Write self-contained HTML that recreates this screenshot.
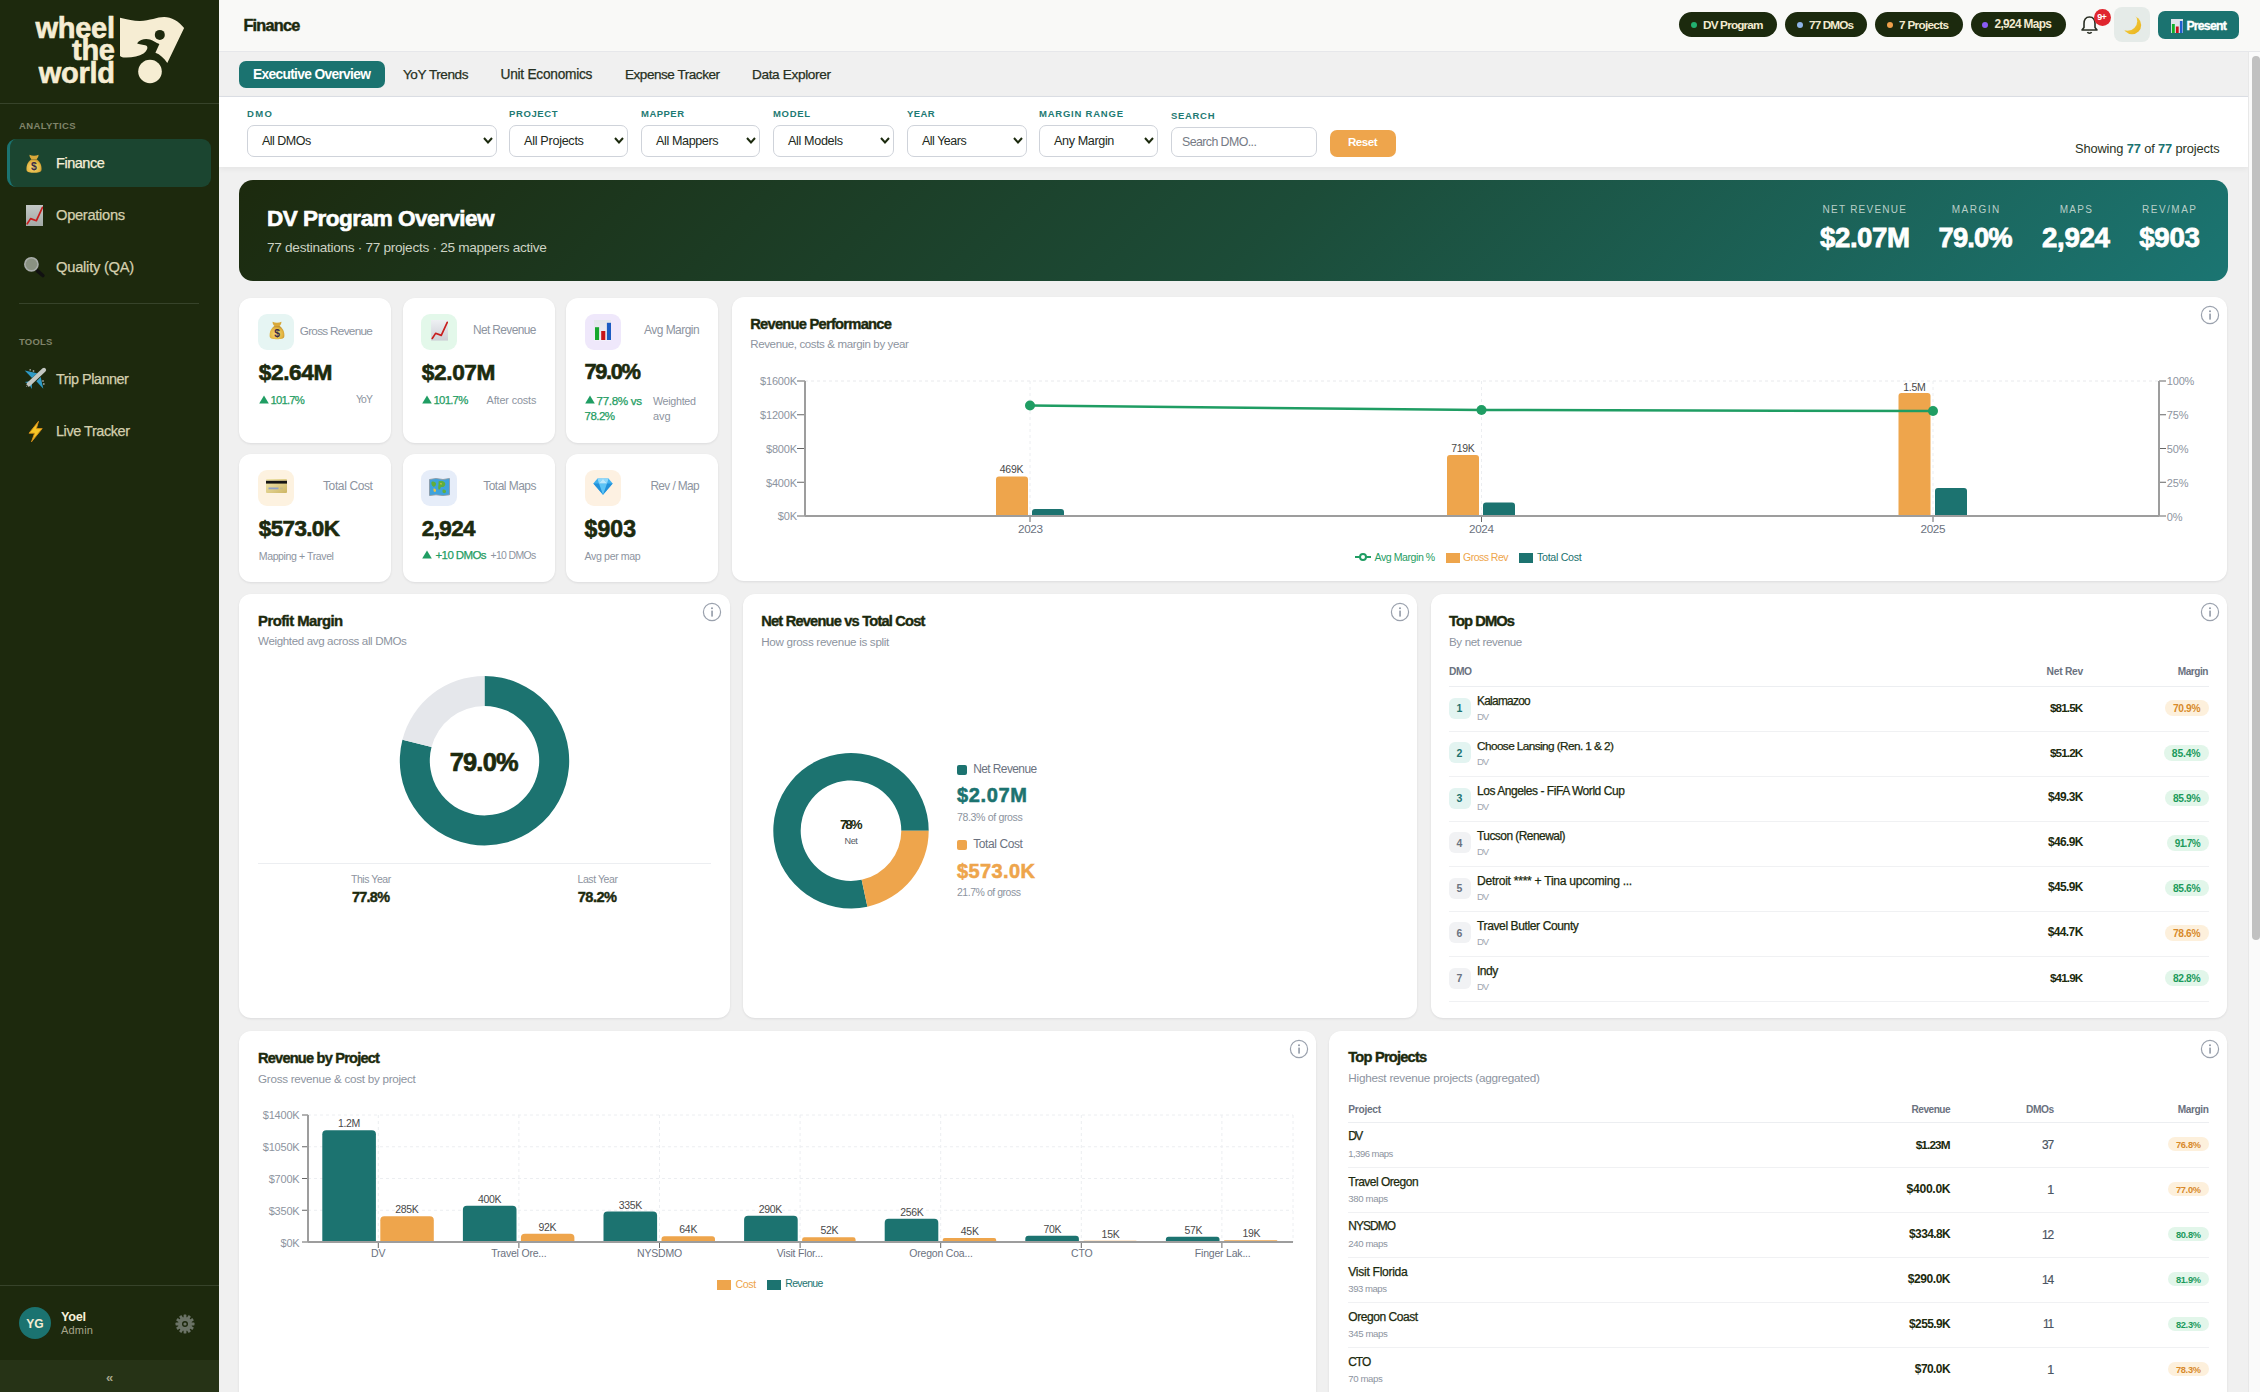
<!DOCTYPE html>
<html><head><meta charset="utf-8"><title>Finance</title>
<style>
html,body{margin:0;padding:0;}
body{width:2260px;height:1392px;overflow:hidden;position:relative;background:#f0f0f0;font-family:'Liberation Sans', sans-serif;}
</style></head><body>
<div style="position:absolute;left:0px;top:0px;width:2260px;height:52px;background:#f9f9f7;border-bottom:1px solid #e6e7ea;box-sizing:border-box"></div>
<div style="position:absolute;left:219px;top:96px;width:2029px;height:1px;background:#dcdfe5"></div>
<div style="position:absolute;left:219px;top:97px;width:2029px;height:70px;background:#ffffff;box-shadow:0 2px 6px rgba(0,0,0,0.05)"></div>
<div style="position:absolute;left:2248px;top:52px;width:12px;height:1340px;background:#fafafa;border-left:1px solid #e8e8e8;box-sizing:border-box"></div>
<div style="position:absolute;left:2252px;top:56px;width:8px;height:884px;background:#c1c1c1;border-radius:4px"></div>
<div style="position:absolute;left:0px;top:0px;width:219px;height:1392px;background:#1d290d"></div>
<div style="position:absolute;left:0px;top:103px;width:219px;height:1px;background:#37432a"></div>
<div style="position:absolute;left:-1885.3px;width:2000px;text-align:right;top:8.8px;height:38px;line-height:38px;font-size:29.00px;font-weight:700;color:#f6edd3;letter-spacing:-0.300px;white-space:nowrap;-webkit-text-stroke:0.6px #f6edd3">wheel</div>
<div style="position:absolute;left:-1885.3px;width:2000px;text-align:right;top:31.3px;height:38px;line-height:38px;font-size:29.00px;font-weight:700;color:#f6edd3;letter-spacing:-0.300px;white-space:nowrap;-webkit-text-stroke:0.6px #f6edd3">the</div>
<div style="position:absolute;left:-1885.3px;width:2000px;text-align:right;top:53.8px;height:38px;line-height:38px;font-size:29.00px;font-weight:700;color:#f6edd3;letter-spacing:-0.300px;white-space:nowrap;-webkit-text-stroke:0.6px #f6edd3">world</div>
<svg style="position:absolute;left:100px;top:0px" width="100" height="100" viewBox="100 0 100 100">
<path d="M120,17.7 C128,19.5 134,21 140,20.9 C150,20.5 157,17 164,16.9 C171,16.8 179,21 184.1,28.1 L167.3,63.1 C164,58 160,54.5 155.4,52.8 L159.4,44 C156,43 153.5,40.5 150,39.5 C146,38.3 140,39 137.1,43.2 C139,44.8 143,44 146.5,45.8 C148.5,47.5 147,51 143.5,53.5 C139,56.5 132,57.8 125,57.6 C123,57.5 121.5,57 120,56 Z" fill="#f6edd3"/>
<circle cx="159.8" cy="34.9" r="5" fill="#1d290d"/>
<circle cx="150" cy="71.5" r="11.8" fill="#f6edd3"/>
</svg>
<div style="position:absolute;left:19.0px;top:119.7px;height:12px;line-height:12px;font-size:9.50px;font-weight:700;color:#80846a;letter-spacing:0.375px;white-space:nowrap;">ANALYTICS</div>
<div style="position:absolute;left:19.0px;top:335.6px;height:12px;line-height:12px;font-size:9.50px;font-weight:700;color:#80846a;letter-spacing:0.184px;white-space:nowrap;">TOOLS</div>
<div style="position:absolute;left:19px;top:303px;width:180px;height:1px;background:#37432a"></div>
<div style="position:absolute;left:7px;top:139px;width:204px;height:48px;background:#1b4530;border-radius:9px;border-left:3px solid #1b7370;box-sizing:border-box"></div>
<div style="position:absolute;left:56.0px;top:153.9px;height:19px;line-height:19px;font-size:14.54px;font-weight:500;color:#f6efd9;letter-spacing:-0.488px;white-space:nowrap;-webkit-text-stroke:0.25px #f6efd9;">Finance</div>
<div style="position:absolute;left:56.0px;top:205.7px;height:19px;line-height:19px;font-size:14.70px;font-weight:500;color:#d4cfae;letter-spacing:-0.298px;white-space:nowrap;-webkit-text-stroke:0.25px #d4cfae;">Operations</div>
<div style="position:absolute;left:56.0px;top:257.7px;height:19px;line-height:19px;font-size:14.73px;font-weight:500;color:#d4cfae;letter-spacing:-0.247px;white-space:nowrap;-webkit-text-stroke:0.25px #d4cfae;">Quality (QA)</div>
<div style="position:absolute;left:56.0px;top:369.8px;height:19px;line-height:19px;font-size:14.45px;font-weight:500;color:#d4cfae;letter-spacing:-0.473px;white-space:nowrap;-webkit-text-stroke:0.25px #d4cfae;">Trip Planner</div>
<div style="position:absolute;left:56.0px;top:421.5px;height:19px;line-height:19px;font-size:14.49px;font-weight:500;color:#d4cfae;letter-spacing:-0.447px;white-space:nowrap;-webkit-text-stroke:0.25px #d4cfae;">Live Tracker</div>
<svg style="position:absolute;left:26px;top:153.5px" width="16" height="20" viewBox="0 0 16 20">
<defs><radialGradient id="mbg1" cx="0.45" cy="0.6" r="0.65"><stop offset="0" stop-color="#f8dc78"/><stop offset="0.7" stop-color="#e2b440"/><stop offset="1" stop-color="#b8862a"/></radialGradient></defs>
<path d="M3.5,0.8 C6,2.2 10,2.2 12.5,0.8 C12.8,2.5 11.5,4.2 10.6,5.2 L5.4,5.2 C4.5,4.2 3.2,2.5 3.5,0.8 Z" fill="#d9a93a"/>
<path d="M5.4,5.2 C1,8 0,13 0.6,16.5 C1.2,19.6 14.8,19.6 15.4,16.5 C16,13 15,8 10.6,5.2 Z" fill="url(#mbg1)"/>
<text x="8" y="16.3" font-family="Liberation Sans" font-weight="700" font-size="10.5" text-anchor="middle" fill="#3b2c48">$</text>
</svg>
<svg style="position:absolute;left:25.8px;top:205px" width="17.5" height="21" viewBox="0 0 17.5 21"><defs><linearGradient id="cg2" x1="0" y1="0" x2="0" y2="1"><stop offset="0" stop-color="#c3c8c6"/><stop offset="1" stop-color="#a3a9a6"/></linearGradient></defs>
<rect x="0" y="0" width="17.5" height="21" fill="url(#cg2)"/>
<polyline points="1.2,18.8 4.6,13.6 10.4,15.7 16.5,2.4" fill="none" stroke="#c81e1e" stroke-width="1.7" stroke-linejoin="round" stroke-linecap="round"/>
</svg>
<svg style="position:absolute;left:23px;top:256px" width="22" height="22" viewBox="0 0 22 22">
<line x1="14.5" y1="14.8" x2="19.8" y2="19.5" stroke="#111111" stroke-width="3.6" stroke-linecap="round"/>
<circle cx="8.4" cy="8.3" r="6.6" fill="#8a9282" stroke="#a9adaa" stroke-width="1.6"/>
</svg>
<svg style="position:absolute;left:20px;top:365px" width="30" height="30" viewBox="0 0 30 30">
<polygon points="12,12.9 17.2,8.2 4.7,5.4" fill="#2e9ac6"/>
<polygon points="16.4,16.2 20.7,12 23.3,23.7" fill="#2e9ac6"/>
<polygon points="8.6,18.8 11.8,16 4.7,17" fill="#2e9ac6"/>
<polygon points="8.6,18.8 11.8,16 11.9,24.1" fill="#2e9ac6"/>
<line x1="8.6" y1="19.4" x2="24" y2="4.9" stroke="#c3c7c2" stroke-width="4.2" stroke-linecap="round"/>
<line x1="8" y1="20" x2="6" y2="22" stroke="#6f726b" stroke-width="1"/>
<circle cx="10.2" cy="4.8" r="0.9" fill="#9a9c94"/><circle cx="13.5" cy="6" r="0.9" fill="#9a9c94"/>
<circle cx="23" cy="16" r="0.9" fill="#9a9c94"/><circle cx="23.8" cy="19" r="0.9" fill="#9a9c94"/>
</svg>
<svg style="position:absolute;left:27.5px;top:421px" width="15" height="21" viewBox="0 0 15 21">
<path d="M10.5,0.3 L1,12.2 L6.6,12.2 L3.5,20.8 L14.2,7.6 L8.4,7.6 Z" fill="#f6c526" stroke="#d8901a" stroke-width="0.9" stroke-linejoin="round"/>
</svg>
<div style="position:absolute;left:0px;top:1285px;width:219px;height:1px;background:#37432a"></div>
<div style="position:absolute;left:19px;top:1307px;width:32px;height:32px;background:#1b7370;border-radius:50%"></div>
<div style="position:absolute;left:-965.0px;width:2000px;text-align:center;top:1315.5px;height:16px;line-height:16px;font-size:12.00px;font-weight:700;color:#f6edd3;letter-spacing:0.000px;white-space:nowrap;">YG</div>
<div style="position:absolute;left:61.0px;top:1307.8px;height:17px;line-height:17px;font-size:12.74px;font-weight:700;color:#f6efd9;letter-spacing:-0.322px;white-space:nowrap;">Yoel</div>
<div style="position:absolute;left:61.0px;top:1323.0px;height:14px;line-height:14px;font-size:11.00px;font-weight:400;color:#a6a58a;letter-spacing:0.178px;white-space:nowrap;">Admin</div>
<svg style="position:absolute;left:175px;top:1314px" width="20" height="20" viewBox="0 0 20 20">
<g fill="#6b7366"><circle cx="10" cy="10" r="7"/>
<g id="t"><rect x="8.6" y="0.5" width="2.8" height="4" rx="0.6"/></g>
<use href="#t" transform="rotate(30 10 10)"/><use href="#t" transform="rotate(60 10 10)"/><use href="#t" transform="rotate(90 10 10)"/>
<use href="#t" transform="rotate(120 10 10)"/><use href="#t" transform="rotate(150 10 10)"/><use href="#t" transform="rotate(180 10 10)"/>
<use href="#t" transform="rotate(210 10 10)"/><use href="#t" transform="rotate(240 10 10)"/><use href="#t" transform="rotate(270 10 10)"/>
<use href="#t" transform="rotate(300 10 10)"/><use href="#t" transform="rotate(330 10 10)"/></g>
<circle cx="10" cy="10" r="3" fill="#1d290d"/><circle cx="10" cy="10" r="1.6" fill="#6b7366"/>
</svg>
<div style="position:absolute;left:0px;top:1360px;width:219px;height:32px;background:#263316"></div>
<div style="position:absolute;left:106.0px;top:1368.5px;height:17px;line-height:17px;font-size:13.00px;font-weight:700;color:#a6a58a;letter-spacing:0.000px;white-space:nowrap;">«</div>
<div style="position:absolute;left:243.4px;top:15.1px;height:21px;line-height:21px;font-size:16.31px;font-weight:700;color:#1c2a0e;letter-spacing:-0.759px;white-space:nowrap;-webkit-text-stroke:0.46px #1c2a0e;">Finance</div>
<div style="position:absolute;left:1679px;top:12px;width:98px;height:25px;background:#1c2a0e;border-radius:13px"></div>
<div style="position:absolute;left:1691px;top:22px;width:6px;height:6px;background:#22b070;border-radius:50%"></div>
<div style="position:absolute;left:1703.0px;top:17.0px;height:15px;line-height:15px;font-size:11.75px;font-weight:700;color:#f3ead0;letter-spacing:-0.822px;white-space:nowrap;">DV Program</div>
<div style="position:absolute;left:1785px;top:12px;width:82px;height:25px;background:#1c2a0e;border-radius:13px"></div>
<div style="position:absolute;left:1797px;top:22px;width:6px;height:6px;background:#8fb4e8;border-radius:50%"></div>
<div style="position:absolute;left:1809.0px;top:17.0px;height:15px;line-height:15px;font-size:11.77px;font-weight:700;color:#f3ead0;letter-spacing:-0.893px;white-space:nowrap;">77 DMOs</div>
<div style="position:absolute;left:1875px;top:12px;width:88px;height:25px;background:#1c2a0e;border-radius:13px"></div>
<div style="position:absolute;left:1887px;top:22px;width:6px;height:6px;background:#f0a04b;border-radius:50%"></div>
<div style="position:absolute;left:1899.0px;top:17.0px;height:15px;line-height:15px;font-size:11.74px;font-weight:700;color:#f3ead0;letter-spacing:-0.683px;white-space:nowrap;">7 Projects</div>
<div style="position:absolute;left:1971px;top:12px;width:95px;height:25px;background:#1c2a0e;border-radius:13px"></div>
<div style="position:absolute;left:1982px;top:22px;width:6px;height:6px;background:#8b5cf6;border-radius:50%"></div>
<div style="position:absolute;left:1994.5px;top:17.0px;height:15px;line-height:15px;font-size:11.87px;font-weight:700;color:#f3ead0;letter-spacing:-0.648px;white-space:nowrap;">2,924 Maps</div>
<svg style="position:absolute;left:2080px;top:15px" width="19" height="20" viewBox="0 0 19 20">
<path d="M9.5,2 C5.5,2 4,5 4,8.5 L4,12.5 L2,15 L17,15 L15,12.5 L15,8.5 C15,5 13.5,2 9.5,2 Z" fill="none" stroke="#2a2f24" stroke-width="1.6" stroke-linejoin="round"/>
<path d="M7.5,17 C8,18.6 11,18.6 11.5,17" fill="none" stroke="#2a2f24" stroke-width="1.5"/>
</svg>
<div style="position:absolute;left:2094px;top:9px;width:17px;height:17px;background:#e0262e;border-radius:50%"></div>
<div style="position:absolute;left:1101.7px;width:2000px;text-align:center;top:11.0px;height:12px;line-height:12px;font-size:9.00px;font-weight:700;color:#ffffff;letter-spacing:-0.600px;white-space:nowrap;">9+</div>
<div style="position:absolute;left:2114px;top:7px;width:36px;height:35px;background:#e5ebe8;border-radius:8px"></div>
<svg style="position:absolute;left:2120px;top:14px" width="24" height="24" viewBox="0 0 24 24"><defs><mask id="moonm"><rect x="0" y="0" width="24" height="24" fill="#fff"/><circle cx="7.6" cy="7.2" r="9.6" fill="#000"/></mask>
<linearGradient id="moong" x1="0" y1="0" x2="1" y2="1"><stop offset="0" stop-color="#f7d64a"/><stop offset="1" stop-color="#e9b21c"/></linearGradient></defs>
<circle cx="12" cy="11" r="9.2" fill="url(#moong)" mask="url(#moonm)"/></svg>
<div style="position:absolute;left:2158px;top:11px;width:81px;height:28px;background:#1b7370;border-radius:7px"></div>
<svg style="position:absolute;left:2170.8px;top:19px" width="12.5" height="14" viewBox="0 0 12.5 14">
<rect x="0" y="0" width="12.5" height="14" fill="#dfe3ea"/>
<rect x="0.9" y="5" width="2.9" height="9" fill="#12b02a"/><rect x="4.9" y="7.5" width="2.8" height="6.5" fill="#c8101a"/><rect x="8.9" y="2" width="2.6" height="12" fill="#1f5fd0"/></svg>
<div style="position:absolute;left:2186.4px;top:18.0px;height:16px;line-height:16px;font-size:12.27px;font-weight:700;color:#ffffff;letter-spacing:-0.768px;white-space:nowrap;-webkit-text-stroke:0.35px #fff;">Present</div>
<div style="position:absolute;left:239px;top:61px;width:146px;height:27px;background:#1b7370;border-radius:7px"></div>
<div style="position:absolute;left:253.0px;top:65.6px;height:18px;line-height:18px;font-size:13.79px;font-weight:600;color:#ffffff;letter-spacing:-0.680px;white-space:nowrap;font-weight:700">Executive Overview</div>
<div style="position:absolute;left:403.0px;top:65.6px;height:18px;line-height:18px;font-size:13.57px;font-weight:500;color:#273022;letter-spacing:-0.435px;white-space:nowrap;-webkit-text-stroke:0.25px #273022;">YoY Trends</div>
<div style="position:absolute;left:500.5px;top:65.6px;height:18px;line-height:18px;font-size:13.73px;font-weight:500;color:#273022;letter-spacing:-0.261px;white-space:nowrap;-webkit-text-stroke:0.25px #273022;">Unit Economics</div>
<div style="position:absolute;left:625.0px;top:65.6px;height:18px;line-height:18px;font-size:13.52px;font-weight:500;color:#273022;letter-spacing:-0.459px;white-space:nowrap;-webkit-text-stroke:0.25px #273022;">Expense Tracker</div>
<div style="position:absolute;left:752.0px;top:65.6px;height:18px;line-height:18px;font-size:13.61px;font-weight:500;color:#273022;letter-spacing:-0.352px;white-space:nowrap;-webkit-text-stroke:0.25px #273022;">Data Explorer</div>
<div style="position:absolute;left:247.0px;top:107.6px;height:12px;line-height:12px;font-size:9.50px;font-weight:700;color:#1e7a73;letter-spacing:1.314px;white-space:nowrap;">DMO</div>
<div style="position:absolute;left:247px;top:125px;width:250px;height:32px;background:#fff;border:1px solid #cfd3da;border-radius:7px;box-sizing:border-box"></div>
<div style="position:absolute;left:262.0px;top:133.0px;height:16px;line-height:16px;font-size:12.51px;font-weight:400;color:#22291c;letter-spacing:-0.518px;white-space:nowrap;">All DMOs</div>
<svg style="position:absolute;left:483px;top:137px" width="10" height="7" viewBox="0 0 10 7"><polyline points="1,1 5,5.5 9,1" fill="none" stroke="#1c2a0e" stroke-width="2"/></svg>
<div style="position:absolute;left:509.0px;top:107.6px;height:12px;line-height:12px;font-size:9.50px;font-weight:700;color:#1e7a73;letter-spacing:0.621px;white-space:nowrap;">PROJECT</div>
<div style="position:absolute;left:509px;top:125px;width:119px;height:32px;background:#fff;border:1px solid #cfd3da;border-radius:7px;box-sizing:border-box"></div>
<div style="position:absolute;left:524.0px;top:133.0px;height:16px;line-height:16px;font-size:12.64px;font-weight:400;color:#22291c;letter-spacing:-0.293px;white-space:nowrap;">All Projects</div>
<svg style="position:absolute;left:614px;top:137px" width="10" height="7" viewBox="0 0 10 7"><polyline points="1,1 5,5.5 9,1" fill="none" stroke="#1c2a0e" stroke-width="2"/></svg>
<div style="position:absolute;left:641.0px;top:107.6px;height:12px;line-height:12px;font-size:9.50px;font-weight:700;color:#1e7a73;letter-spacing:0.469px;white-space:nowrap;">MAPPER</div>
<div style="position:absolute;left:641px;top:125px;width:119px;height:32px;background:#fff;border:1px solid #cfd3da;border-radius:7px;box-sizing:border-box"></div>
<div style="position:absolute;left:656.0px;top:133.0px;height:16px;line-height:16px;font-size:12.59px;font-weight:400;color:#22291c;letter-spacing:-0.386px;white-space:nowrap;">All Mappers</div>
<svg style="position:absolute;left:746px;top:137px" width="10" height="7" viewBox="0 0 10 7"><polyline points="1,1 5,5.5 9,1" fill="none" stroke="#1c2a0e" stroke-width="2"/></svg>
<div style="position:absolute;left:773.0px;top:107.6px;height:12px;line-height:12px;font-size:9.50px;font-weight:700;color:#1e7a73;letter-spacing:0.672px;white-space:nowrap;">MODEL</div>
<div style="position:absolute;left:773px;top:125px;width:121px;height:32px;background:#fff;border:1px solid #cfd3da;border-radius:7px;box-sizing:border-box"></div>
<div style="position:absolute;left:788.0px;top:133.0px;height:16px;line-height:16px;font-size:12.61px;font-weight:400;color:#22291c;letter-spacing:-0.353px;white-space:nowrap;">All Models</div>
<svg style="position:absolute;left:880px;top:137px" width="10" height="7" viewBox="0 0 10 7"><polyline points="1,1 5,5.5 9,1" fill="none" stroke="#1c2a0e" stroke-width="2"/></svg>
<div style="position:absolute;left:907.0px;top:107.6px;height:12px;line-height:12px;font-size:9.50px;font-weight:700;color:#1e7a73;letter-spacing:0.365px;white-space:nowrap;">YEAR</div>
<div style="position:absolute;left:907px;top:125px;width:120px;height:32px;background:#fff;border:1px solid #cfd3da;border-radius:7px;box-sizing:border-box"></div>
<div style="position:absolute;left:922.0px;top:133.0px;height:16px;line-height:16px;font-size:12.45px;font-weight:400;color:#22291c;letter-spacing:-0.468px;white-space:nowrap;">All Years</div>
<svg style="position:absolute;left:1013px;top:137px" width="10" height="7" viewBox="0 0 10 7"><polyline points="1,1 5,5.5 9,1" fill="none" stroke="#1c2a0e" stroke-width="2"/></svg>
<div style="position:absolute;left:1039.0px;top:107.6px;height:12px;line-height:12px;font-size:9.50px;font-weight:700;color:#1e7a73;letter-spacing:0.774px;white-space:nowrap;">MARGIN RANGE</div>
<div style="position:absolute;left:1039px;top:125px;width:119px;height:32px;background:#fff;border:1px solid #cfd3da;border-radius:7px;box-sizing:border-box"></div>
<div style="position:absolute;left:1054.0px;top:133.0px;height:16px;line-height:16px;font-size:12.62px;font-weight:400;color:#22291c;letter-spacing:-0.381px;white-space:nowrap;">Any Margin</div>
<svg style="position:absolute;left:1144px;top:137px" width="10" height="7" viewBox="0 0 10 7"><polyline points="1,1 5,5.5 9,1" fill="none" stroke="#1c2a0e" stroke-width="2"/></svg>
<div style="position:absolute;left:1171.0px;top:109.5px;height:12px;line-height:12px;font-size:9.50px;font-weight:700;color:#1e7a73;letter-spacing:0.675px;white-space:nowrap;">SEARCH</div>
<div style="position:absolute;left:1171px;top:127px;width:146px;height:30px;background:#fff;border:1px solid #cfd3da;border-radius:7px;box-sizing:border-box"></div>
<div style="position:absolute;left:1182.0px;top:134.0px;height:16px;line-height:16px;font-size:12.39px;font-weight:400;color:#767b85;letter-spacing:-0.580px;white-space:nowrap;">Search DMO...</div>
<div style="position:absolute;left:1330px;top:130px;width:66px;height:27px;background:#eea54c;border-radius:7px"></div>
<div style="position:absolute;left:1348.0px;top:135.3px;height:15px;line-height:15px;font-size:11.58px;font-weight:700;color:#ffffff;letter-spacing:-0.509px;white-space:nowrap;">Reset</div>
<div style="position:absolute;left:2075.0px;top:139.5px;height:17px;line-height:17px;font-size:12.85px;font-weight:400;color:#2a3322;letter-spacing:-0.135px;white-space:nowrap;">Showing <span style="color:#1b7370;font-weight:700">77</span> of <span style="color:#1b7370;font-weight:700">77</span> projects</div>
<div style="position:absolute;left:239px;top:180px;width:1989px;height:101px;background:linear-gradient(135deg,#1c2a0e 0%,#1c4c38 52%,#1b7572 100%);border-radius:14px"></div>
<div style="position:absolute;left:267.0px;top:203.5px;height:29px;line-height:29px;font-size:22.53px;font-weight:700;color:#ffffff;letter-spacing:-0.494px;white-space:nowrap;-webkit-text-stroke:0.63px #ffffff;">DV Program Overview</div>
<div style="position:absolute;left:267.0px;top:239.4px;height:18px;line-height:18px;font-size:13.64px;font-weight:400;color:#cdd3c4;letter-spacing:-0.293px;white-space:nowrap;">77 destinations · 77 projects · 25 mappers active</div>
<div style="position:absolute;left:864.9px;width:2000px;text-align:center;top:203.3px;height:13px;line-height:13px;font-size:10.00px;font-weight:400;color:#b9cfc8;letter-spacing:1.245px;white-space:nowrap;">NET REVENUE</div>
<div style="position:absolute;left:864.8px;width:2000px;text-align:center;top:219.5px;height:36px;line-height:36px;font-size:27.64px;font-weight:700;color:#ffffff;letter-spacing:-0.440px;white-space:nowrap;-webkit-text-stroke:0.77px #ffffff;">$2.07M</div>
<div style="position:absolute;left:976.2px;width:2000px;text-align:center;top:203.3px;height:13px;line-height:13px;font-size:10.00px;font-weight:400;color:#b9cfc8;letter-spacing:1.500px;white-space:nowrap;">MARGIN</div>
<div style="position:absolute;left:975.2px;width:2000px;text-align:center;top:219.5px;height:36px;line-height:36px;font-size:27.33px;font-weight:700;color:#ffffff;letter-spacing:-0.852px;white-space:nowrap;-webkit-text-stroke:0.77px #ffffff;">79.0%</div>
<div style="position:absolute;left:1076.5px;width:2000px;text-align:center;top:203.3px;height:13px;line-height:13px;font-size:10.00px;font-weight:400;color:#b9cfc8;letter-spacing:1.285px;white-space:nowrap;">MAPS</div>
<div style="position:absolute;left:1075.8px;width:2000px;text-align:center;top:219.5px;height:36px;line-height:36px;font-size:27.71px;font-weight:700;color:#ffffff;letter-spacing:-0.336px;white-space:nowrap;-webkit-text-stroke:0.78px #ffffff;">2,924</div>
<div style="position:absolute;left:1169.8px;width:2000px;text-align:center;top:203.3px;height:13px;line-height:13px;font-size:10.00px;font-weight:400;color:#b9cfc8;letter-spacing:1.500px;white-space:nowrap;">REV/MAP</div>
<div style="position:absolute;left:1169.4px;width:2000px;text-align:center;top:219.5px;height:36px;line-height:36px;font-size:27.71px;font-weight:700;color:#ffffff;letter-spacing:-0.387px;white-space:nowrap;-webkit-text-stroke:0.78px #ffffff;">$903</div>
<div style="position:absolute;left:239px;top:298px;width:152px;height:145px;background:#ffffff;border-radius:12px;box-shadow:0 1px 3px rgba(16,24,40,0.06),0 1px 2px rgba(16,24,40,0.03)"></div>
<div style="position:absolute;left:239px;top:454px;width:152px;height:128px;background:#ffffff;border-radius:12px;box-shadow:0 1px 3px rgba(16,24,40,0.06),0 1px 2px rgba(16,24,40,0.03)"></div>
<div style="position:absolute;left:403px;top:298px;width:152px;height:145px;background:#ffffff;border-radius:12px;box-shadow:0 1px 3px rgba(16,24,40,0.06),0 1px 2px rgba(16,24,40,0.03)"></div>
<div style="position:absolute;left:403px;top:454px;width:152px;height:128px;background:#ffffff;border-radius:12px;box-shadow:0 1px 3px rgba(16,24,40,0.06),0 1px 2px rgba(16,24,40,0.03)"></div>
<div style="position:absolute;left:566px;top:298px;width:152px;height:145px;background:#ffffff;border-radius:12px;box-shadow:0 1px 3px rgba(16,24,40,0.06),0 1px 2px rgba(16,24,40,0.03)"></div>
<div style="position:absolute;left:566px;top:454px;width:152px;height:128px;background:#ffffff;border-radius:12px;box-shadow:0 1px 3px rgba(16,24,40,0.06),0 1px 2px rgba(16,24,40,0.03)"></div>
<div style="position:absolute;left:258px;top:314px;width:36px;height:36px;background:#e6f5f3;border-radius:9px"></div>
<div style="position:absolute;left:421px;top:314px;width:36px;height:36px;background:#e3f8ea;border-radius:9px"></div>
<div style="position:absolute;left:585px;top:314px;width:36px;height:36px;background:#efe8fb;border-radius:9px"></div>
<div style="position:absolute;left:258px;top:470px;width:36px;height:36px;background:#fdf2e0;border-radius:9px"></div>
<div style="position:absolute;left:421px;top:470px;width:36px;height:36px;background:#e6edf9;border-radius:9px"></div>
<div style="position:absolute;left:585px;top:470px;width:36px;height:36px;background:#fdf1e2;border-radius:9px"></div>
<svg style="position:absolute;left:268.5px;top:321px" width="16" height="19.5" viewBox="0 0 16 20">
<defs><radialGradient id="mbg3" cx="0.45" cy="0.6" r="0.65"><stop offset="0" stop-color="#f8dc78"/><stop offset="0.7" stop-color="#e2b440"/><stop offset="1" stop-color="#b8862a"/></radialGradient></defs>
<path d="M3.5,0.8 C6,2.2 10,2.2 12.5,0.8 C12.8,2.5 11.5,4.2 10.6,5.2 L5.4,5.2 C4.5,4.2 3.2,2.5 3.5,0.8 Z" fill="#d9a93a"/>
<path d="M5.4,5.2 C1,8 0,13 0.6,16.5 C1.2,19.6 14.8,19.6 15.4,16.5 C16,13 15,8 10.6,5.2 Z" fill="url(#mbg3)"/>
<text x="8" y="16.3" font-family="Liberation Sans" font-weight="700" font-size="10.5" text-anchor="middle" fill="#3b2c48">$</text>
</svg>
<svg style="position:absolute;left:431px;top:320.2px" width="17.3" height="20.6" viewBox="0 0 17.5 21"><defs><linearGradient id="cg4" x1="0" y1="0" x2="0" y2="1"><stop offset="0" stop-color="#eef0f3"/><stop offset="1" stop-color="#cdd0d6"/></linearGradient></defs>
<rect x="0" y="0" width="17.5" height="21" fill="url(#cg4)"/>
<polyline points="1.2,18.8 4.6,13.6 10.4,15.7 16.5,2.4" fill="none" stroke="#c81e1e" stroke-width="1.7" stroke-linejoin="round" stroke-linecap="round"/>
</svg>
<svg style="position:absolute;left:593.6px;top:320px" width="17.5" height="21" viewBox="0 0 17.5 21"><defs><linearGradient id="bcg" x1="0" y1="0" x2="0" y2="1"><stop offset="0" stop-color="#e3e6ea"/><stop offset="1" stop-color="#f3f0fb"/></linearGradient></defs>
<rect x="0" y="0" width="17.5" height="21" fill="url(#bcg)"/>
<rect x="1" y="7.2" width="4.1" height="12.8" fill="#16a82e"/><rect x="7.2" y="11" width="4.1" height="9" fill="#c8141a"/><rect x="12.9" y="2.8" width="4.1" height="17.2" fill="#1c5cc2"/></svg>
<svg style="position:absolute;left:266px;top:479px" width="21" height="14" viewBox="0 0 21 14"><defs><linearGradient id="ccg" x1="0" y1="0" x2="1" y2="1"><stop offset="0" stop-color="#f1e6b0"/><stop offset="1" stop-color="#cdb664"/></linearGradient></defs>
<rect x="0" y="0" width="21" height="14" rx="1" fill="url(#ccg)"/><rect x="0" y="1.8" width="21" height="2.8" fill="#141414"/>
<rect x="2.5" y="8.5" width="10" height="1.8" fill="#8fa0c8"/><rect x="14" y="8.5" width="3" height="1.8" fill="#c7bb88"/></svg>
<svg style="position:absolute;left:429px;top:477.5px" width="21" height="18" viewBox="0 0 21 18"><path d="M0.5,1.5 L7,0.5 L14,1.5 L20.5,0.5 L20.5,16.8 L14,17.5 L7,16.8 L0.5,17.5 Z" fill="#3ea2dc" stroke="#8b9aa6" stroke-width="0.9"/>
<path d="M2.5,4 C4.5,3 7,4 7,6 C7,8 5,9.5 4,8.5 C3,7.5 2,6 2.5,4 Z M9.5,3.5 C12,2.5 15,3 16,5 C17,7 15,9.5 13,9 C11,8.5 12,11 10.5,11.5 C9,12 9,9 9.5,7 Z M13.5,12 C15,11 17.5,12 17,14 C16.5,15.5 14,15.5 13.5,14 Z" fill="#5fae3c"/>
<path d="M4.5,10.5 C6,10 7.5,11.5 7,13 C6.5,14.5 4.5,14 4.5,12.5 Z M11,5 L13,5.5 L12,7 Z" fill="#e8c44a"/></svg>
<svg style="position:absolute;left:593px;top:478.3px" width="20" height="17.2" viewBox="0 0 20 17.2"><path d="M4.5,0.5 L15.5,0.5 L19.7,5.5 L10,16.8 L0.3,5.5 Z" fill="#3fb0ee"/>
<path d="M0.3,5.5 L19.7,5.5 L10,16.8 Z" fill="#2291da"/><path d="M6,5.5 L10,16.8 L14,5.5 Z" fill="#5cc4f6"/>
<path d="M4.5,0.5 L6,5.5 L10,0.5 L14,5.5 L15.5,0.5 Z" fill="#8fd8fb"/><path d="M6,5.5 L10,0.5 L14,5.5 Z" fill="#b8e8fd"/></svg>
<div style="position:absolute;left:299.7px;top:322.8px;height:15px;line-height:15px;font-size:11.78px;font-weight:400;color:#8d94a0;letter-spacing:-0.712px;white-space:nowrap;">Gross Revenue</div>
<div style="position:absolute;left:472.9px;top:322.8px;height:15px;line-height:15px;font-size:11.91px;font-weight:400;color:#8d94a0;letter-spacing:-0.600px;white-space:nowrap;">Net Revenue</div>
<div style="position:absolute;left:644.0px;top:322.3px;height:16px;line-height:16px;font-size:11.97px;font-weight:400;color:#8d94a0;letter-spacing:-0.516px;white-space:nowrap;">Avg Margin</div>
<div style="position:absolute;left:323.0px;top:478.2px;height:16px;line-height:16px;font-size:12.04px;font-weight:400;color:#8d94a0;letter-spacing:-0.396px;white-space:nowrap;">Total Cost</div>
<div style="position:absolute;left:483.3px;top:478.2px;height:16px;line-height:16px;font-size:11.95px;font-weight:400;color:#8d94a0;letter-spacing:-0.519px;white-space:nowrap;">Total Maps</div>
<div style="position:absolute;left:650.4px;top:478.7px;height:15px;line-height:15px;font-size:11.88px;font-weight:400;color:#8d94a0;letter-spacing:-0.607px;white-space:nowrap;">Rev / Map</div>
<div style="position:absolute;left:258.8px;top:357.8px;height:29px;line-height:29px;font-size:22.67px;font-weight:700;color:#1c2a0e;letter-spacing:-0.402px;white-space:nowrap;-webkit-text-stroke:0.63px #1c2a0e;">$2.64M</div>
<div style="position:absolute;left:421.8px;top:357.8px;height:29px;line-height:29px;font-size:22.68px;font-weight:700;color:#1c2a0e;letter-spacing:-0.390px;white-space:nowrap;-webkit-text-stroke:0.64px #1c2a0e;">$2.07M</div>
<div style="position:absolute;left:584.6px;top:358.3px;height:28px;line-height:28px;font-size:21.86px;font-weight:700;color:#1c2a0e;letter-spacing:-1.396px;white-space:nowrap;-webkit-text-stroke:0.61px #1c2a0e;">79.0%</div>
<div style="position:absolute;left:258.8px;top:514.0px;height:29px;line-height:29px;font-size:22.45px;font-weight:700;color:#1c2a0e;letter-spacing:-0.617px;white-space:nowrap;-webkit-text-stroke:0.63px #1c2a0e;">$573.0K</div>
<div style="position:absolute;left:421.8px;top:514.0px;height:29px;line-height:29px;font-size:22.46px;font-weight:700;color:#1c2a0e;letter-spacing:-0.604px;white-space:nowrap;-webkit-text-stroke:0.63px #1c2a0e;">2,924</div>
<div style="position:absolute;left:584.6px;top:513.5px;height:30px;line-height:30px;font-size:23.00px;font-weight:700;color:#1c2a0e;letter-spacing:0.076px;white-space:nowrap;-webkit-text-stroke:0.64px #1c2a0e;">$903</div>
<svg style="position:absolute;left:259px;top:395px" width="10" height="9" viewBox="0 0 10 9"><path d="M5,0.5 L9.8,8.5 L0.2,8.5 Z" fill="#1f9d63"/></svg>
<div style="position:absolute;left:270.5px;top:392.5px;height:15px;line-height:15px;font-size:11.30px;font-weight:500;color:#1f9d63;letter-spacing:-0.807px;white-space:nowrap;-webkit-text-stroke:0.25px #1f9d63;">101.7%</div>
<div style="position:absolute;left:356.0px;top:393.0px;height:14px;line-height:14px;font-size:10.43px;font-weight:400;color:#8d94a0;letter-spacing:-0.885px;white-space:nowrap;">YoY</div>
<svg style="position:absolute;left:422px;top:395px" width="10" height="9" viewBox="0 0 10 9"><path d="M5,0.5 L9.8,8.5 L0.2,8.5 Z" fill="#1f9d63"/></svg>
<div style="position:absolute;left:433.5px;top:392.5px;height:15px;line-height:15px;font-size:11.36px;font-weight:500;color:#1f9d63;letter-spacing:-0.746px;white-space:nowrap;-webkit-text-stroke:0.25px #1f9d63;">101.7%</div>
<div style="position:absolute;left:486.6px;top:393.0px;height:14px;line-height:14px;font-size:10.84px;font-weight:400;color:#8d94a0;letter-spacing:-0.140px;white-space:nowrap;">After costs</div>
<svg style="position:absolute;left:585px;top:395px" width="10" height="9" viewBox="0 0 10 9"><path d="M5,0.5 L9.8,8.5 L0.2,8.5 Z" fill="#1f9d63"/></svg>
<div style="position:absolute;left:596.5px;top:392.5px;height:15px;line-height:15px;font-size:11.66px;font-weight:500;color:#1f9d63;letter-spacing:-0.353px;white-space:nowrap;-webkit-text-stroke:0.25px #1f9d63;">77.8% vs</div>
<div style="position:absolute;left:584.6px;top:408.5px;height:15px;line-height:15px;font-size:11.54px;font-weight:500;color:#1f9d63;letter-spacing:-0.578px;white-space:nowrap;-webkit-text-stroke:0.25px #1f9d63;">78.2%</div>
<div style="position:absolute;left:653.0px;top:393.6px;height:14px;line-height:14px;font-size:10.72px;font-weight:400;color:#8d94a0;letter-spacing:-0.301px;white-space:nowrap;">Weighted</div>
<div style="position:absolute;left:653.0px;top:409.0px;height:14px;line-height:14px;font-size:11.00px;font-weight:400;color:#8d94a0;letter-spacing:0.000px;white-space:nowrap;">avg</div>
<div style="position:absolute;left:258.8px;top:548.5px;height:14px;line-height:14px;font-size:10.55px;font-weight:400;color:#8d94a0;letter-spacing:-0.403px;white-space:nowrap;">Mapping + Travel</div>
<svg style="position:absolute;left:422px;top:550px" width="10" height="9" viewBox="0 0 10 9"><path d="M5,0.5 L9.8,8.5 L0.2,8.5 Z" fill="#1f9d63"/></svg>
<div style="position:absolute;left:435.5px;top:548.0px;height:15px;line-height:15px;font-size:11.50px;font-weight:500;color:#1f9d63;letter-spacing:-0.599px;white-space:nowrap;-webkit-text-stroke:0.25px #1f9d63;">+10 DMOs</div>
<div style="position:absolute;left:490.4px;top:548.5px;height:14px;line-height:14px;font-size:10.48px;font-weight:400;color:#8d94a0;letter-spacing:-0.624px;white-space:nowrap;">+10 DMOs</div>
<div style="position:absolute;left:584.6px;top:548.5px;height:14px;line-height:14px;font-size:10.62px;font-weight:400;color:#8d94a0;letter-spacing:-0.381px;white-space:nowrap;">Avg per map</div>
<div style="position:absolute;left:732px;top:297px;width:1495px;height:284px;background:#ffffff;border-radius:12px;box-shadow:0 1px 3px rgba(16,24,40,0.06),0 1px 2px rgba(16,24,40,0.03)"></div>
<div style="position:absolute;left:750.2px;top:314.7px;height:19px;line-height:19px;font-size:14.74px;font-weight:700;color:#1c2a0e;letter-spacing:-0.770px;white-space:nowrap;-webkit-text-stroke:0.41px #1c2a0e;">Revenue Performance</div>
<div style="position:absolute;left:750.2px;top:336.5px;height:15px;line-height:15px;font-size:11.56px;font-weight:400;color:#8d94a0;letter-spacing:-0.377px;white-space:nowrap;">Revenue, costs &amp; margin by year</div>
<svg style="position:absolute;left:2199.7px;top:304.5px" width="20" height="20" viewBox="0 0 20 20"><circle cx="10" cy="10" r="8.6" fill="none" stroke="#9aa1ad" stroke-width="1.2"/><rect x="9.3" y="8.6" width="1.5" height="6" fill="#8b93a1"/><circle cx="10" cy="6.3" r="0.95" fill="#8b93a1"/></svg>
<svg style="position:absolute;left:0px;top:0px" width="2260" height="1392" viewBox="0 0 2260 1392"><line x1="805" y1="381.0" x2="2159" y2="381.0" stroke="#e8e9ec" stroke-width="1" stroke-dasharray="3 3"/><line x1="797" y1="381.0" x2="805" y2="381.0" stroke="#666666" stroke-width="1"/><line x1="2159" y1="381.0" x2="2166" y2="381.0" stroke="#666666" stroke-width="1"/><line x1="797" y1="414.75" x2="805" y2="414.75" stroke="#666666" stroke-width="1"/><line x1="2159" y1="414.75" x2="2166" y2="414.75" stroke="#666666" stroke-width="1"/><line x1="797" y1="448.5" x2="805" y2="448.5" stroke="#666666" stroke-width="1"/><line x1="2159" y1="448.5" x2="2166" y2="448.5" stroke="#666666" stroke-width="1"/><line x1="797" y1="482.25" x2="805" y2="482.25" stroke="#666666" stroke-width="1"/><line x1="2159" y1="482.25" x2="2166" y2="482.25" stroke="#666666" stroke-width="1"/><line x1="797" y1="516.0" x2="805" y2="516.0" stroke="#666666" stroke-width="1"/><line x1="2159" y1="516.0" x2="2166" y2="516.0" stroke="#666666" stroke-width="1"/><line x1="1030" y1="381" x2="1030" y2="516" stroke="#eceef1" stroke-width="1" stroke-dasharray="3 3"/><line x1="1030" y1="516" x2="1030" y2="522" stroke="#666666" stroke-width="1"/><line x1="1481.5" y1="381" x2="1481.5" y2="516" stroke="#eceef1" stroke-width="1" stroke-dasharray="3 3"/><line x1="1481.5" y1="516" x2="1481.5" y2="522" stroke="#666666" stroke-width="1"/><line x1="1933" y1="381" x2="1933" y2="516" stroke="#eceef1" stroke-width="1" stroke-dasharray="3 3"/><line x1="1933" y1="516" x2="1933" y2="522" stroke="#666666" stroke-width="1"/><line x1="805" y1="381" x2="805" y2="516" stroke="#9d9d9d" stroke-width="2"/><line x1="2159" y1="381" x2="2159" y2="516" stroke="#9d9d9d" stroke-width="2"/><path d="M996,516 L996,479.5 Q996,476.5 999,476.5 L1025,476.5 Q1028,476.5 1028,479.5 L1028,516 Z" fill="#eea54c"/><path d="M1032,516 L1032,512 Q1032,509 1035,509 L1061,509 Q1064,509 1064,512 L1064,516 Z" fill="#1c7370"/><path d="M1447,516 L1447,458 Q1447,455 1450,455 L1476,455 Q1479,455 1479,458 L1479,516 Z" fill="#eea54c"/><path d="M1483,516 L1483,505.5 Q1483,502.5 1486,502.5 L1512,502.5 Q1515,502.5 1515,505.5 L1515,516 Z" fill="#1c7370"/><path d="M1898.5,516 L1898.5,396 Q1898.5,393 1901.5,393 L1927.5,393 Q1930.5,393 1930.5,396 L1930.5,516 Z" fill="#eea54c"/><path d="M1935,516 L1935,491 Q1935,488 1938,488 L1964,488 Q1967,488 1967,491 L1967,516 Z" fill="#1c7370"/><line x1="805" y1="516" x2="2159" y2="516" stroke="#9d9d9d" stroke-width="2"/><polyline points="1030,405.5 1481.5,410 1933,411" fill="none" stroke="#1f9d63" stroke-width="2.5"/><circle cx="1030" cy="405.5" r="5" fill="#1f9d63"/><circle cx="1481.5" cy="410" r="5" fill="#1f9d63"/><circle cx="1933" cy="411" r="5" fill="#1f9d63"/></svg>
<div style="position:absolute;left:-1203.2px;width:2000px;text-align:right;top:374.3px;height:14px;line-height:14px;font-size:11.00px;font-weight:400;color:#8d94a0;letter-spacing:-0.200px;white-space:nowrap;">$1600K</div>
<div style="position:absolute;left:-1203.2px;width:2000px;text-align:right;top:408.0px;height:14px;line-height:14px;font-size:11.00px;font-weight:400;color:#8d94a0;letter-spacing:-0.200px;white-space:nowrap;">$1200K</div>
<div style="position:absolute;left:-1203.2px;width:2000px;text-align:right;top:441.7px;height:14px;line-height:14px;font-size:11.00px;font-weight:400;color:#8d94a0;letter-spacing:-0.200px;white-space:nowrap;">$800K</div>
<div style="position:absolute;left:-1203.2px;width:2000px;text-align:right;top:475.5px;height:14px;line-height:14px;font-size:11.00px;font-weight:400;color:#8d94a0;letter-spacing:-0.200px;white-space:nowrap;">$400K</div>
<div style="position:absolute;left:-1203.2px;width:2000px;text-align:right;top:509.4px;height:14px;line-height:14px;font-size:11.00px;font-weight:400;color:#8d94a0;letter-spacing:-0.200px;white-space:nowrap;">$0K</div>
<div style="position:absolute;left:2166.8px;top:374.3px;height:14px;line-height:14px;font-size:11.00px;font-weight:400;color:#8d94a0;letter-spacing:-0.200px;white-space:nowrap;">100%</div>
<div style="position:absolute;left:2166.8px;top:408.0px;height:14px;line-height:14px;font-size:11.00px;font-weight:400;color:#8d94a0;letter-spacing:-0.200px;white-space:nowrap;">75%</div>
<div style="position:absolute;left:2166.8px;top:441.7px;height:14px;line-height:14px;font-size:11.00px;font-weight:400;color:#8d94a0;letter-spacing:-0.200px;white-space:nowrap;">50%</div>
<div style="position:absolute;left:2166.8px;top:475.5px;height:14px;line-height:14px;font-size:11.00px;font-weight:400;color:#8d94a0;letter-spacing:-0.200px;white-space:nowrap;">25%</div>
<div style="position:absolute;left:2166.8px;top:509.6px;height:14px;line-height:14px;font-size:11.00px;font-weight:400;color:#8d94a0;letter-spacing:-0.200px;white-space:nowrap;">0%</div>
<div style="position:absolute;left:30.3px;width:2000px;text-align:center;top:520.8px;height:15px;line-height:15px;font-size:11.73px;font-weight:400;color:#6b7280;letter-spacing:-0.365px;white-space:nowrap;">2023</div>
<div style="position:absolute;left:481.3px;width:2000px;text-align:center;top:520.8px;height:15px;line-height:15px;font-size:11.73px;font-weight:400;color:#6b7280;letter-spacing:-0.365px;white-space:nowrap;">2024</div>
<div style="position:absolute;left:932.8px;width:2000px;text-align:center;top:520.8px;height:15px;line-height:15px;font-size:11.73px;font-weight:400;color:#6b7280;letter-spacing:-0.365px;white-space:nowrap;">2025</div>
<div style="position:absolute;left:11.5px;width:2000px;text-align:center;top:462.2px;height:14px;line-height:14px;font-size:10.50px;font-weight:400;color:#4a4a4a;letter-spacing:-0.300px;white-space:nowrap;">469K</div>
<div style="position:absolute;left:462.9px;width:2000px;text-align:center;top:441.0px;height:14px;line-height:14px;font-size:10.50px;font-weight:400;color:#4a4a4a;letter-spacing:-0.300px;white-space:nowrap;">719K</div>
<div style="position:absolute;left:914.4px;width:2000px;text-align:center;top:380.1px;height:14px;line-height:14px;font-size:10.50px;font-weight:400;color:#4a4a4a;letter-spacing:-0.300px;white-space:nowrap;">1.5M</div>
<svg style="position:absolute;left:1355px;top:551px" width="16" height="12" viewBox="0 0 16 12"><line x1="0" y1="6" x2="16" y2="6" stroke="#1f9d63" stroke-width="2"/><circle cx="8" cy="6" r="3" fill="#fff" stroke="#1f9d63" stroke-width="2"/></svg>
<div style="position:absolute;left:1374.5px;top:550.2px;height:14px;line-height:14px;font-size:10.56px;font-weight:400;color:#1f9d63;letter-spacing:-0.433px;white-space:nowrap;">Avg Margin %</div>
<div style="position:absolute;left:1446px;top:553px;width:14px;height:10px;background:#eea54c"></div>
<div style="position:absolute;left:1463.0px;top:550.2px;height:14px;line-height:14px;font-size:10.50px;font-weight:400;color:#eea54c;letter-spacing:-0.513px;white-space:nowrap;">Gross Rev</div>
<div style="position:absolute;left:1519px;top:553px;width:14px;height:10px;background:#1c7370"></div>
<div style="position:absolute;left:1537.0px;top:550.2px;height:14px;line-height:14px;font-size:10.67px;font-weight:400;color:#1c7370;letter-spacing:-0.293px;white-space:nowrap;">Total Cost</div>
<div style="position:absolute;left:239px;top:594px;width:491px;height:424px;background:#ffffff;border-radius:12px;box-shadow:0 1px 3px rgba(16,24,40,0.06),0 1px 2px rgba(16,24,40,0.03)"></div>
<div style="position:absolute;left:258.1px;top:611.5px;height:19px;line-height:19px;font-size:14.88px;font-weight:700;color:#1c2a0e;letter-spacing:-0.557px;white-space:nowrap;-webkit-text-stroke:0.42px #1c2a0e;">Profit Margin</div>
<div style="position:absolute;left:258.1px;top:633.7px;height:15px;line-height:15px;font-size:11.59px;font-weight:400;color:#8d94a0;letter-spacing:-0.369px;white-space:nowrap;">Weighted avg across all DMOs</div>
<svg style="position:absolute;left:701.8px;top:602.1px" width="20" height="20" viewBox="0 0 20 20"><circle cx="10" cy="10" r="8.6" fill="none" stroke="#9aa1ad" stroke-width="1.2"/><rect x="9.3" y="8.6" width="1.5" height="6" fill="#8b93a1"/><circle cx="10" cy="6.3" r="0.95" fill="#8b93a1"/></svg>
<svg style="position:absolute;left:0px;top:0px" width="2260" height="1392" viewBox="0 0 2260 1392"><path d="M484.50,676.00 A84.7,84.7 0 1 1 402.46,739.64 L431.52,747.10 A54.7,54.7 0 1 0 484.50,706.00 Z" fill="#1c7370"/><path d="M402.46,739.64 A84.7,84.7 0 0 1 484.50,676.00 L484.50,706.00 A54.7,54.7 0 0 0 431.52,747.10 Z" fill="#e5e7eb"/></svg>
<div style="position:absolute;left:449.7px;top:745.5px;height:33px;line-height:33px;font-size:25.39px;font-weight:700;color:#1c2a0e;letter-spacing:-0.776px;white-space:nowrap;-webkit-text-stroke:0.71px #1c2a0e;">79.0%</div>
<div style="position:absolute;left:258px;top:863px;width:453px;height:1px;background:#eceef1"></div>
<div style="position:absolute;left:351.0px;top:871.6px;height:14px;line-height:14px;font-size:10.50px;font-weight:400;color:#8d94a0;letter-spacing:-0.450px;white-space:nowrap;">This Year</div>
<div style="position:absolute;left:352.0px;top:887.8px;height:19px;line-height:19px;font-size:14.42px;font-weight:700;color:#1c2a0e;letter-spacing:-0.724px;white-space:nowrap;-webkit-text-stroke:0.40px #1c2a0e;">77.8%</div>
<div style="position:absolute;left:577.5px;top:871.6px;height:14px;line-height:14px;font-size:10.53px;font-weight:400;color:#8d94a0;letter-spacing:-0.427px;white-space:nowrap;">Last Year</div>
<div style="position:absolute;left:577.8px;top:887.8px;height:19px;line-height:19px;font-size:14.58px;font-weight:700;color:#1c2a0e;letter-spacing:-0.536px;white-space:nowrap;-webkit-text-stroke:0.41px #1c2a0e;">78.2%</div>
<div style="position:absolute;left:743px;top:594px;width:674px;height:424px;background:#ffffff;border-radius:12px;box-shadow:0 1px 3px rgba(16,24,40,0.06),0 1px 2px rgba(16,24,40,0.03)"></div>
<div style="position:absolute;left:761.2px;top:611.5px;height:19px;line-height:19px;font-size:14.61px;font-weight:700;color:#1c2a0e;letter-spacing:-0.790px;white-space:nowrap;-webkit-text-stroke:0.41px #1c2a0e;">Net Revenue vs Total Cost</div>
<div style="position:absolute;left:761.2px;top:633.7px;height:15px;line-height:15px;font-size:11.64px;font-weight:400;color:#8d94a0;letter-spacing:-0.301px;white-space:nowrap;">How gross revenue is split</div>
<svg style="position:absolute;left:1389.6px;top:602.1px" width="20" height="20" viewBox="0 0 20 20"><circle cx="10" cy="10" r="8.6" fill="none" stroke="#9aa1ad" stroke-width="1.2"/><rect x="9.3" y="8.6" width="1.5" height="6" fill="#8b93a1"/><circle cx="10" cy="6.3" r="0.95" fill="#8b93a1"/></svg>
<svg style="position:absolute;left:0px;top:0px" width="2260" height="1392" viewBox="0 0 2260 1392"><path d="M867.42,906.65 A77.7,77.7 0 1 1 928.70,830.70 L901.30,830.70 A50.3,50.3 0 1 0 861.63,879.86 Z" fill="#1c7370"/><path d="M928.70,830.70 A77.7,77.7 0 0 1 867.42,906.65 L861.63,879.86 A50.3,50.3 0 0 0 901.30,830.70 Z" fill="#eea54c"/></svg>
<div style="position:absolute;left:839.9px;top:815.7px;height:17px;line-height:17px;font-size:13.30px;font-weight:700;color:#1c2a0e;letter-spacing:-1.968px;white-space:nowrap;">78%</div>
<div style="position:absolute;left:844.6px;top:835.3px;height:12px;line-height:12px;font-size:9.15px;font-weight:400;color:#555b63;letter-spacing:-0.477px;white-space:nowrap;">Net</div>
<div style="position:absolute;left:957px;top:765px;width:10px;height:10px;background:#1c7370;border-radius:2px"></div>
<div style="position:absolute;left:973.3px;top:761.2px;height:16px;line-height:16px;font-size:11.93px;font-weight:400;color:#6b7280;letter-spacing:-0.582px;white-space:nowrap;">Net Revenue</div>
<div style="position:absolute;left:957.1px;top:781.8px;height:26px;line-height:26px;font-size:20.00px;font-weight:700;color:#1c7370;letter-spacing:0.636px;white-space:nowrap;-webkit-text-stroke:0.56px #1c7370;">$2.07M</div>
<div style="position:absolute;left:957.0px;top:809.6px;height:14px;line-height:14px;font-size:10.59px;font-weight:400;color:#8d94a0;letter-spacing:-0.367px;white-space:nowrap;">78.3% of gross</div>
<div style="position:absolute;left:957px;top:840px;width:10px;height:10px;background:#eea54c;border-radius:2px"></div>
<div style="position:absolute;left:973.3px;top:836.1px;height:16px;line-height:16px;font-size:12.01px;font-weight:400;color:#6b7280;letter-spacing:-0.424px;white-space:nowrap;">Total Cost</div>
<div style="position:absolute;left:957.1px;top:857.7px;height:26px;line-height:26px;font-size:20.00px;font-weight:700;color:#eea54c;letter-spacing:0.363px;white-space:nowrap;-webkit-text-stroke:0.56px #eea54c;">$573.0K</div>
<div style="position:absolute;left:957.0px;top:885.5px;height:14px;line-height:14px;font-size:10.49px;font-weight:400;color:#8d94a0;letter-spacing:-0.457px;white-space:nowrap;">21.7% of gross</div>
<div style="position:absolute;left:1431px;top:594px;width:796px;height:424px;background:#ffffff;border-radius:12px;box-shadow:0 1px 3px rgba(16,24,40,0.06),0 1px 2px rgba(16,24,40,0.03)"></div>
<div style="position:absolute;left:1449.0px;top:611.7px;height:19px;line-height:19px;font-size:14.73px;font-weight:700;color:#1c2a0e;letter-spacing:-0.936px;white-space:nowrap;-webkit-text-stroke:0.41px #1c2a0e;">Top DMOs</div>
<div style="position:absolute;left:1449.0px;top:633.7px;height:15px;line-height:15px;font-size:11.60px;font-weight:400;color:#8d94a0;letter-spacing:-0.365px;white-space:nowrap;">By net revenue</div>
<svg style="position:absolute;left:2200px;top:601.8px" width="20" height="20" viewBox="0 0 20 20"><circle cx="10" cy="10" r="8.6" fill="none" stroke="#9aa1ad" stroke-width="1.2"/><rect x="9.3" y="8.6" width="1.5" height="6" fill="#8b93a1"/><circle cx="10" cy="6.3" r="0.95" fill="#8b93a1"/></svg>
<div style="position:absolute;left:1449.0px;top:665.1px;height:13px;line-height:13px;font-size:10.25px;font-weight:700;color:#6b7280;letter-spacing:-0.514px;white-space:nowrap;">DMO</div>
<div style="position:absolute;left:83.0px;width:2000px;text-align:right;top:665.1px;height:13px;line-height:13px;font-size:10.27px;font-weight:700;color:#6b7280;letter-spacing:-0.258px;white-space:nowrap;">Net Rev</div>
<div style="position:absolute;left:208.1px;width:2000px;text-align:right;top:665.1px;height:13px;line-height:13px;font-size:10.11px;font-weight:700;color:#6b7280;letter-spacing:-0.449px;white-space:nowrap;">Margin</div>
<div style="position:absolute;left:1449px;top:686px;width:760px;height:1px;background:#eceef1"></div>
<div style="position:absolute;left:1449px;top:698px;width:22px;height:21px;background:#e3f4f1;border-radius:6px"></div>
<div style="position:absolute;left:459.5px;width:2000px;text-align:center;top:700.5px;height:14px;line-height:14px;font-size:10.50px;font-weight:700;color:#1c7370;letter-spacing:0.000px;white-space:nowrap;">1</div>
<div style="position:absolute;left:1477.0px;top:693.9px;height:15px;line-height:15px;font-size:11.85px;font-weight:500;color:#1c2a0e;letter-spacing:-0.699px;white-space:nowrap;-webkit-text-stroke:0.25px #1c2a0e;">Kalamazoo</div>
<div style="position:absolute;left:1477.0px;top:710.6px;height:12px;line-height:12px;font-size:9.50px;font-weight:400;color:#a0a6b0;letter-spacing:-1.207px;white-space:nowrap;">DV</div>
<div style="position:absolute;left:82.4px;width:2000px;text-align:right;top:699.7px;height:15px;line-height:15px;font-size:11.69px;font-weight:700;color:#1c2a0e;letter-spacing:-0.881px;white-space:nowrap;">$81.5K</div>
<div style="position:absolute;left:2165px;top:700px;width:44px;height:16px;background:#fdf0dc;border-radius:8px"></div>
<div style="position:absolute;left:1186.6px;width:2000px;text-align:center;top:701.5px;height:13px;line-height:13px;font-size:10.21px;font-weight:700;color:#d88a2a;letter-spacing:-0.366px;white-space:nowrap;">70.9%</div>
<div style="position:absolute;left:1449px;top:731px;width:760px;height:1px;background:#f0f1f3"></div>
<div style="position:absolute;left:1449px;top:742px;width:22px;height:21px;background:#e3f4f1;border-radius:6px"></div>
<div style="position:absolute;left:459.5px;width:2000px;text-align:center;top:745.5px;height:14px;line-height:14px;font-size:10.50px;font-weight:700;color:#1c7370;letter-spacing:0.000px;white-space:nowrap;">2</div>
<div style="position:absolute;left:1477.0px;top:738.9px;height:15px;line-height:15px;font-size:11.81px;font-weight:500;color:#1c2a0e;letter-spacing:-0.588px;white-space:nowrap;-webkit-text-stroke:0.25px #1c2a0e;">Choose Lansing (Ren. 1 &amp; 2)</div>
<div style="position:absolute;left:1477.0px;top:755.6px;height:12px;line-height:12px;font-size:9.50px;font-weight:400;color:#a0a6b0;letter-spacing:-1.207px;white-space:nowrap;">DV</div>
<div style="position:absolute;left:82.4px;width:2000px;text-align:right;top:744.7px;height:15px;line-height:15px;font-size:11.69px;font-weight:700;color:#1c2a0e;letter-spacing:-0.881px;white-space:nowrap;">$51.2K</div>
<div style="position:absolute;left:2164px;top:745px;width:45px;height:16px;background:#e2f6ea;border-radius:8px"></div>
<div style="position:absolute;left:1186.1px;width:2000px;text-align:center;top:746.5px;height:13px;line-height:13px;font-size:10.36px;font-weight:700;color:#1c9a5c;letter-spacing:-0.175px;white-space:nowrap;">85.4%</div>
<div style="position:absolute;left:1449px;top:776px;width:760px;height:1px;background:#f0f1f3"></div>
<div style="position:absolute;left:1449px;top:788px;width:22px;height:21px;background:#e3f4f1;border-radius:6px"></div>
<div style="position:absolute;left:459.5px;width:2000px;text-align:center;top:790.5px;height:14px;line-height:14px;font-size:10.50px;font-weight:700;color:#1c7370;letter-spacing:0.000px;white-space:nowrap;">3</div>
<div style="position:absolute;left:1477.0px;top:783.4px;height:16px;line-height:16px;font-size:11.99px;font-weight:500;color:#1c2a0e;letter-spacing:-0.437px;white-space:nowrap;-webkit-text-stroke:0.25px #1c2a0e;">Los Angeles - FiFA World Cup</div>
<div style="position:absolute;left:1477.0px;top:800.6px;height:12px;line-height:12px;font-size:9.50px;font-weight:400;color:#a0a6b0;letter-spacing:-1.207px;white-space:nowrap;">DV</div>
<div style="position:absolute;left:82.7px;width:2000px;text-align:right;top:789.2px;height:16px;line-height:16px;font-size:11.93px;font-weight:700;color:#1c2a0e;letter-spacing:-0.636px;white-space:nowrap;">$49.3K</div>
<div style="position:absolute;left:2165px;top:790px;width:44px;height:16px;background:#e2f6ea;border-radius:8px"></div>
<div style="position:absolute;left:1186.6px;width:2000px;text-align:center;top:791.5px;height:13px;line-height:13px;font-size:10.21px;font-weight:700;color:#1c9a5c;letter-spacing:-0.366px;white-space:nowrap;">85.9%</div>
<div style="position:absolute;left:1449px;top:821px;width:760px;height:1px;background:#f0f1f3"></div>
<div style="position:absolute;left:1449px;top:832px;width:22px;height:21px;background:#f1f2f4;border-radius:6px"></div>
<div style="position:absolute;left:459.5px;width:2000px;text-align:center;top:835.5px;height:14px;line-height:14px;font-size:10.50px;font-weight:700;color:#6b7280;letter-spacing:0.000px;white-space:nowrap;">4</div>
<div style="position:absolute;left:1477.0px;top:828.4px;height:16px;line-height:16px;font-size:11.94px;font-weight:500;color:#1c2a0e;letter-spacing:-0.528px;white-space:nowrap;-webkit-text-stroke:0.25px #1c2a0e;">Tucson (Renewal)</div>
<div style="position:absolute;left:1477.0px;top:845.6px;height:12px;line-height:12px;font-size:9.50px;font-weight:400;color:#a0a6b0;letter-spacing:-1.207px;white-space:nowrap;">DV</div>
<div style="position:absolute;left:82.7px;width:2000px;text-align:right;top:834.2px;height:16px;line-height:16px;font-size:11.93px;font-weight:700;color:#1c2a0e;letter-spacing:-0.636px;white-space:nowrap;">$46.9K</div>
<div style="position:absolute;left:2167px;top:835px;width:42px;height:16px;background:#e2f6ea;border-radius:8px"></div>
<div style="position:absolute;left:1187.3px;width:2000px;text-align:center;top:836.5px;height:13px;line-height:13px;font-size:9.99px;font-weight:700;color:#1c9a5c;letter-spacing:-0.631px;white-space:nowrap;">91.7%</div>
<div style="position:absolute;left:1449px;top:866px;width:760px;height:1px;background:#f0f1f3"></div>
<div style="position:absolute;left:1449px;top:878px;width:22px;height:21px;background:#f1f2f4;border-radius:6px"></div>
<div style="position:absolute;left:459.5px;width:2000px;text-align:center;top:880.5px;height:14px;line-height:14px;font-size:10.50px;font-weight:700;color:#6b7280;letter-spacing:0.000px;white-space:nowrap;">5</div>
<div style="position:absolute;left:1477.0px;top:873.4px;height:16px;line-height:16px;font-size:12.13px;font-weight:500;color:#1c2a0e;letter-spacing:-0.287px;white-space:nowrap;-webkit-text-stroke:0.25px #1c2a0e;">Detroit **** + Tina upcoming ...</div>
<div style="position:absolute;left:1477.0px;top:890.6px;height:12px;line-height:12px;font-size:9.50px;font-weight:400;color:#a0a6b0;letter-spacing:-1.207px;white-space:nowrap;">DV</div>
<div style="position:absolute;left:82.7px;width:2000px;text-align:right;top:879.2px;height:16px;line-height:16px;font-size:11.93px;font-weight:700;color:#1c2a0e;letter-spacing:-0.636px;white-space:nowrap;">$45.9K</div>
<div style="position:absolute;left:2165px;top:880px;width:44px;height:16px;background:#e2f6ea;border-radius:8px"></div>
<div style="position:absolute;left:1186.6px;width:2000px;text-align:center;top:881.5px;height:13px;line-height:13px;font-size:10.21px;font-weight:700;color:#1c9a5c;letter-spacing:-0.366px;white-space:nowrap;">85.6%</div>
<div style="position:absolute;left:1449px;top:911px;width:760px;height:1px;background:#f0f1f3"></div>
<div style="position:absolute;left:1449px;top:922px;width:22px;height:21px;background:#f1f2f4;border-radius:6px"></div>
<div style="position:absolute;left:459.5px;width:2000px;text-align:center;top:925.5px;height:14px;line-height:14px;font-size:10.50px;font-weight:700;color:#6b7280;letter-spacing:0.000px;white-space:nowrap;">6</div>
<div style="position:absolute;left:1477.0px;top:918.4px;height:16px;line-height:16px;font-size:12.04px;font-weight:500;color:#1c2a0e;letter-spacing:-0.386px;white-space:nowrap;-webkit-text-stroke:0.25px #1c2a0e;">Travel Butler County</div>
<div style="position:absolute;left:1477.0px;top:935.6px;height:12px;line-height:12px;font-size:9.50px;font-weight:400;color:#a0a6b0;letter-spacing:-1.207px;white-space:nowrap;">DV</div>
<div style="position:absolute;left:82.7px;width:2000px;text-align:right;top:924.2px;height:16px;line-height:16px;font-size:11.97px;font-weight:700;color:#1c2a0e;letter-spacing:-0.599px;white-space:nowrap;">$44.7K</div>
<div style="position:absolute;left:2165px;top:925px;width:44px;height:16px;background:#fdf0dc;border-radius:8px"></div>
<div style="position:absolute;left:1186.6px;width:2000px;text-align:center;top:926.5px;height:13px;line-height:13px;font-size:10.21px;font-weight:700;color:#d88a2a;letter-spacing:-0.366px;white-space:nowrap;">78.6%</div>
<div style="position:absolute;left:1449px;top:956px;width:760px;height:1px;background:#f0f1f3"></div>
<div style="position:absolute;left:1449px;top:968px;width:22px;height:21px;background:#f1f2f4;border-radius:6px"></div>
<div style="position:absolute;left:459.5px;width:2000px;text-align:center;top:970.5px;height:14px;line-height:14px;font-size:10.50px;font-weight:700;color:#6b7280;letter-spacing:0.000px;white-space:nowrap;">7</div>
<div style="position:absolute;left:1477.0px;top:963.4px;height:16px;line-height:16px;font-size:12.07px;font-weight:500;color:#1c2a0e;letter-spacing:-0.477px;white-space:nowrap;-webkit-text-stroke:0.25px #1c2a0e;">Indy</div>
<div style="position:absolute;left:1477.0px;top:980.6px;height:12px;line-height:12px;font-size:9.50px;font-weight:400;color:#a0a6b0;letter-spacing:-1.207px;white-space:nowrap;">DV</div>
<div style="position:absolute;left:82.4px;width:2000px;text-align:right;top:969.7px;height:15px;line-height:15px;font-size:11.69px;font-weight:700;color:#1c2a0e;letter-spacing:-0.881px;white-space:nowrap;">$41.9K</div>
<div style="position:absolute;left:2165px;top:970px;width:44px;height:16px;background:#e2f6ea;border-radius:8px"></div>
<div style="position:absolute;left:1186.6px;width:2000px;text-align:center;top:971.5px;height:13px;line-height:13px;font-size:10.21px;font-weight:700;color:#1c9a5c;letter-spacing:-0.366px;white-space:nowrap;">82.8%</div>
<div style="position:absolute;left:1449px;top:1001px;width:760px;height:1px;background:#f0f1f3"></div>
<div style="position:absolute;left:239px;top:1031px;width:1077px;height:420px;background:#ffffff;border-radius:12px;box-shadow:0 1px 3px rgba(16,24,40,0.06),0 1px 2px rgba(16,24,40,0.03)"></div>
<div style="position:absolute;left:258.0px;top:1048.6px;height:19px;line-height:19px;font-size:14.63px;font-weight:700;color:#1c2a0e;letter-spacing:-0.812px;white-space:nowrap;-webkit-text-stroke:0.41px #1c2a0e;">Revenue by Project</div>
<div style="position:absolute;left:258.0px;top:1070.6px;height:15px;line-height:15px;font-size:11.68px;font-weight:400;color:#8d94a0;letter-spacing:-0.275px;white-space:nowrap;">Gross revenue &amp; cost by project</div>
<svg style="position:absolute;left:1288.9px;top:1038.7px" width="20" height="20" viewBox="0 0 20 20"><circle cx="10" cy="10" r="8.6" fill="none" stroke="#9aa1ad" stroke-width="1.2"/><rect x="9.3" y="8.6" width="1.5" height="6" fill="#8b93a1"/><circle cx="10" cy="6.3" r="0.95" fill="#8b93a1"/></svg>
<svg style="position:absolute;left:0px;top:0px" width="2260" height="1392" viewBox="0 0 2260 1392"><line x1="308" y1="1115.0" x2="1293" y2="1115.0" stroke="#eceef1" stroke-width="1" stroke-dasharray="3 3"/><line x1="302" y1="1115.0" x2="308" y2="1115.0" stroke="#666666" stroke-width="1"/><line x1="308" y1="1146.75" x2="1293" y2="1146.75" stroke="#eceef1" stroke-width="1" stroke-dasharray="3 3"/><line x1="302" y1="1146.75" x2="308" y2="1146.75" stroke="#666666" stroke-width="1"/><line x1="308" y1="1178.5" x2="1293" y2="1178.5" stroke="#eceef1" stroke-width="1" stroke-dasharray="3 3"/><line x1="302" y1="1178.5" x2="308" y2="1178.5" stroke="#666666" stroke-width="1"/><line x1="308" y1="1210.25" x2="1293" y2="1210.25" stroke="#eceef1" stroke-width="1" stroke-dasharray="3 3"/><line x1="302" y1="1210.25" x2="308" y2="1210.25" stroke="#666666" stroke-width="1"/><line x1="302" y1="1242.0" x2="308" y2="1242.0" stroke="#666666" stroke-width="1"/><line x1="378.3" y1="1115" x2="378.3" y2="1242" stroke="#eceef1" stroke-width="1" stroke-dasharray="3 3"/><line x1="378.3" y1="1242" x2="378.3" y2="1248" stroke="#666666" stroke-width="1"/><line x1="518.9" y1="1115" x2="518.9" y2="1242" stroke="#eceef1" stroke-width="1" stroke-dasharray="3 3"/><line x1="518.9" y1="1242" x2="518.9" y2="1248" stroke="#666666" stroke-width="1"/><line x1="659.5" y1="1115" x2="659.5" y2="1242" stroke="#eceef1" stroke-width="1" stroke-dasharray="3 3"/><line x1="659.5" y1="1242" x2="659.5" y2="1248" stroke="#666666" stroke-width="1"/><line x1="800.1" y1="1115" x2="800.1" y2="1242" stroke="#eceef1" stroke-width="1" stroke-dasharray="3 3"/><line x1="800.1" y1="1242" x2="800.1" y2="1248" stroke="#666666" stroke-width="1"/><line x1="940.7" y1="1115" x2="940.7" y2="1242" stroke="#eceef1" stroke-width="1" stroke-dasharray="3 3"/><line x1="940.7" y1="1242" x2="940.7" y2="1248" stroke="#666666" stroke-width="1"/><line x1="1081.3" y1="1115" x2="1081.3" y2="1242" stroke="#eceef1" stroke-width="1" stroke-dasharray="3 3"/><line x1="1081.3" y1="1242" x2="1081.3" y2="1248" stroke="#666666" stroke-width="1"/><line x1="1221.9" y1="1115" x2="1221.9" y2="1242" stroke="#eceef1" stroke-width="1" stroke-dasharray="3 3"/><line x1="1221.9" y1="1242" x2="1221.9" y2="1248" stroke="#666666" stroke-width="1"/><line x1="1293" y1="1115" x2="1293" y2="1242" stroke="#eceef1" stroke-width="1" stroke-dasharray="3 3"/><line x1="308" y1="1115" x2="308" y2="1242" stroke="#9d9d9d" stroke-width="2"/><path d="M322.3,1242 L322.3,1134.24 Q322.3,1130.24 326.3,1130.24 L371.90000000000003,1130.24 Q375.90000000000003,1130.24 375.90000000000003,1134.24 L375.90000000000003,1242 Z" fill="#1c7370"/><path d="M380.3,1242 L380.3,1220.1464285714285 Q380.3,1216.1464285714285 384.3,1216.1464285714285 L429.8,1216.1464285714285 Q433.8,1216.1464285714285 433.8,1220.1464285714285 L433.8,1242 Z" fill="#eea54c"/><path d="M462.9,1242 L462.9,1209.7142857142858 Q462.9,1205.7142857142858 466.9,1205.7142857142858 L512.5,1205.7142857142858 Q516.5,1205.7142857142858 516.5,1209.7142857142858 L516.5,1242 Z" fill="#1c7370"/><path d="M520.9,1242 L520.9,1237.6542857142856 Q520.9,1233.6542857142856 524.9,1233.6542857142856 L570.4,1233.6542857142856 Q574.4,1233.6542857142856 574.4,1237.6542857142856 L574.4,1242 Z" fill="#eea54c"/><path d="M603.5,1242 L603.5,1215.6107142857143 Q603.5,1211.6107142857143 607.5,1211.6107142857143 L653.1,1211.6107142857143 Q657.1,1211.6107142857143 657.1,1215.6107142857143 L657.1,1242 Z" fill="#1c7370"/><path d="M661.5,1242 L661.5,1239.097142857143 Q661.5,1236.1942857142858 664.4028571428571,1236.1942857142858 L712.0971428571429,1236.1942857142858 Q715.0,1236.1942857142858 715.0,1239.097142857143 L715.0,1242 Z" fill="#eea54c"/><path d="M744.1,1242 L744.1,1219.692857142857 Q744.1,1215.692857142857 748.1,1215.692857142857 L793.7,1215.692857142857 Q797.7,1215.692857142857 797.7,1219.692857142857 L797.7,1242 Z" fill="#1c7370"/><path d="M802.1,1242 L802.1,1239.6414285714286 Q802.1,1237.2828571428572 804.4585714285714,1237.2828571428572 L853.2414285714286,1237.2828571428572 Q855.6,1237.2828571428572 855.6,1239.6414285714286 L855.6,1242 Z" fill="#eea54c"/><path d="M884.7,1242 L884.7,1222.777142857143 Q884.7,1218.777142857143 888.7,1218.777142857143 L934.3000000000001,1218.777142857143 Q938.3000000000001,1218.777142857143 938.3000000000001,1222.777142857143 L938.3000000000001,1242 Z" fill="#1c7370"/><path d="M942.7,1242 L942.7,1239.9589285714287 Q942.7,1237.9178571428572 944.7410714285714,1237.9178571428572 L994.1589285714286,1237.9178571428572 Q996.2,1237.9178571428572 996.2,1239.9589285714287 L996.2,1242 Z" fill="#eea54c"/><path d="M1025.3,1242 L1025.3,1238.825 Q1025.3,1235.65 1028.475,1235.65 L1075.725,1235.65 Q1078.8999999999999,1235.65 1078.8999999999999,1238.825 L1078.8999999999999,1242 Z" fill="#1c7370"/><path d="M1083.3,1242 L1083.3,1241.3196428571428 Q1083.3,1240.6392857142857 1083.980357142857,1240.6392857142857 L1136.119642857143,1240.6392857142857 Q1136.8,1240.6392857142857 1136.8,1241.3196428571428 L1136.8,1242 Z" fill="#eea54c"/><path d="M1165.9,1242 L1165.9,1239.414642857143 Q1165.9,1236.8292857142858 1168.485357142857,1236.8292857142858 L1216.914642857143,1236.8292857142858 Q1219.5,1236.8292857142858 1219.5,1239.414642857143 L1219.5,1242 Z" fill="#1c7370"/><path d="M1223.9,1242 L1223.9,1241.1382142857142 Q1223.9,1240.2764285714286 1224.761785714286,1240.2764285714286 L1276.5382142857143,1240.2764285714286 Q1277.4,1240.2764285714286 1277.4,1241.1382142857142 L1277.4,1242 Z" fill="#eea54c"/><line x1="308" y1="1242" x2="1293" y2="1242" stroke="#9d9d9d" stroke-width="2"/></svg>
<div style="position:absolute;left:-1700.5px;width:2000px;text-align:right;top:1108.3px;height:14px;line-height:14px;font-size:11.00px;font-weight:400;color:#8d94a0;letter-spacing:-0.200px;white-space:nowrap;">$1400K</div>
<div style="position:absolute;left:-1700.5px;width:2000px;text-align:right;top:1140.0px;height:14px;line-height:14px;font-size:11.00px;font-weight:400;color:#8d94a0;letter-spacing:-0.200px;white-space:nowrap;">$1050K</div>
<div style="position:absolute;left:-1700.5px;width:2000px;text-align:right;top:1171.7px;height:14px;line-height:14px;font-size:11.00px;font-weight:400;color:#8d94a0;letter-spacing:-0.200px;white-space:nowrap;">$700K</div>
<div style="position:absolute;left:-1700.5px;width:2000px;text-align:right;top:1203.5px;height:14px;line-height:14px;font-size:11.00px;font-weight:400;color:#8d94a0;letter-spacing:-0.200px;white-space:nowrap;">$350K</div>
<div style="position:absolute;left:-1700.5px;width:2000px;text-align:right;top:1235.7px;height:14px;line-height:14px;font-size:11.00px;font-weight:400;color:#8d94a0;letter-spacing:-0.200px;white-space:nowrap;">$0K</div>
<div style="position:absolute;left:-621.8px;width:2000px;text-align:center;top:1245.8px;height:14px;line-height:14px;font-size:10.50px;font-weight:400;color:#6b7280;letter-spacing:-0.200px;white-space:nowrap;">DV</div>
<div style="position:absolute;left:-481.2px;width:2000px;text-align:center;top:1245.8px;height:14px;line-height:14px;font-size:10.50px;font-weight:400;color:#6b7280;letter-spacing:-0.200px;white-space:nowrap;">Travel Ore...</div>
<div style="position:absolute;left:-340.5px;width:2000px;text-align:center;top:1245.8px;height:14px;line-height:14px;font-size:10.50px;font-weight:400;color:#6b7280;letter-spacing:-0.200px;white-space:nowrap;">NYSDMO</div>
<div style="position:absolute;left:-200.2px;width:2000px;text-align:center;top:1245.8px;height:14px;line-height:14px;font-size:10.50px;font-weight:400;color:#6b7280;letter-spacing:-0.200px;white-space:nowrap;">Visit Flor...</div>
<div style="position:absolute;left:-59.0px;width:2000px;text-align:center;top:1245.8px;height:14px;line-height:14px;font-size:10.50px;font-weight:400;color:#6b7280;letter-spacing:-0.200px;white-space:nowrap;">Oregon Coa...</div>
<div style="position:absolute;left:81.7px;width:2000px;text-align:center;top:1245.8px;height:14px;line-height:14px;font-size:10.50px;font-weight:400;color:#6b7280;letter-spacing:-0.200px;white-space:nowrap;">CTO</div>
<div style="position:absolute;left:222.7px;width:2000px;text-align:center;top:1245.8px;height:14px;line-height:14px;font-size:10.50px;font-weight:400;color:#6b7280;letter-spacing:-0.200px;white-space:nowrap;">Finger Lak...</div>
<div style="position:absolute;left:-651.0px;width:2000px;text-align:center;top:1115.8px;height:14px;line-height:14px;font-size:10.50px;font-weight:400;color:#4a4a4a;letter-spacing:-0.300px;white-space:nowrap;">1.2M</div>
<div style="position:absolute;left:-593.2px;width:2000px;text-align:center;top:1201.9px;height:14px;line-height:14px;font-size:10.50px;font-weight:400;color:#4a4a4a;letter-spacing:-0.300px;white-space:nowrap;">285K</div>
<div style="position:absolute;left:-510.4px;width:2000px;text-align:center;top:1192.0px;height:14px;line-height:14px;font-size:10.50px;font-weight:400;color:#4a4a4a;letter-spacing:-0.300px;white-space:nowrap;">400K</div>
<div style="position:absolute;left:-452.6px;width:2000px;text-align:center;top:1219.8px;height:14px;line-height:14px;font-size:10.50px;font-weight:400;color:#4a4a4a;letter-spacing:-0.300px;white-space:nowrap;">92K</div>
<div style="position:absolute;left:-369.6px;width:2000px;text-align:center;top:1197.7px;height:14px;line-height:14px;font-size:10.50px;font-weight:400;color:#4a4a4a;letter-spacing:-0.300px;white-space:nowrap;">335K</div>
<div style="position:absolute;left:-311.8px;width:2000px;text-align:center;top:1222.0px;height:14px;line-height:14px;font-size:10.50px;font-weight:400;color:#4a4a4a;letter-spacing:-0.300px;white-space:nowrap;">64K</div>
<div style="position:absolute;left:-229.7px;width:2000px;text-align:center;top:1202.0px;height:14px;line-height:14px;font-size:10.50px;font-weight:400;color:#4a4a4a;letter-spacing:-0.300px;white-space:nowrap;">290K</div>
<div style="position:absolute;left:-170.7px;width:2000px;text-align:center;top:1222.7px;height:14px;line-height:14px;font-size:10.50px;font-weight:400;color:#4a4a4a;letter-spacing:-0.300px;white-space:nowrap;">52K</div>
<div style="position:absolute;left:-88.2px;width:2000px;text-align:center;top:1205.0px;height:14px;line-height:14px;font-size:10.50px;font-weight:400;color:#4a4a4a;letter-spacing:-0.300px;white-space:nowrap;">256K</div>
<div style="position:absolute;left:-30.3px;width:2000px;text-align:center;top:1224.0px;height:14px;line-height:14px;font-size:10.50px;font-weight:400;color:#4a4a4a;letter-spacing:-0.300px;white-space:nowrap;">45K</div>
<div style="position:absolute;left:52.4px;width:2000px;text-align:center;top:1222.0px;height:14px;line-height:14px;font-size:10.50px;font-weight:400;color:#4a4a4a;letter-spacing:-0.300px;white-space:nowrap;">70K</div>
<div style="position:absolute;left:110.5px;width:2000px;text-align:center;top:1226.6px;height:14px;line-height:14px;font-size:10.50px;font-weight:400;color:#4a4a4a;letter-spacing:-0.300px;white-space:nowrap;">15K</div>
<div style="position:absolute;left:193.3px;width:2000px;text-align:center;top:1223.0px;height:14px;line-height:14px;font-size:10.50px;font-weight:400;color:#4a4a4a;letter-spacing:-0.300px;white-space:nowrap;">57K</div>
<div style="position:absolute;left:251.3px;width:2000px;text-align:center;top:1225.9px;height:14px;line-height:14px;font-size:10.50px;font-weight:400;color:#4a4a4a;letter-spacing:-0.300px;white-space:nowrap;">19K</div>
<div style="position:absolute;left:717px;top:1280px;width:14px;height:10px;background:#eea54c"></div>
<div style="position:absolute;left:735.5px;top:1276.5px;height:14px;line-height:14px;font-size:10.68px;font-weight:400;color:#eea54c;letter-spacing:-0.390px;white-space:nowrap;">Cost</div>
<div style="position:absolute;left:767px;top:1280px;width:14px;height:10px;background:#1c7370"></div>
<div style="position:absolute;left:785.2px;top:1276.5px;height:14px;line-height:14px;font-size:10.47px;font-weight:400;color:#1c7370;letter-spacing:-0.618px;white-space:nowrap;">Revenue</div>
<div style="position:absolute;left:1329px;top:1031px;width:898px;height:420px;background:#ffffff;border-radius:12px;box-shadow:0 1px 3px rgba(16,24,40,0.06),0 1px 2px rgba(16,24,40,0.03)"></div>
<div style="position:absolute;left:1348.3px;top:1048.4px;height:19px;line-height:19px;font-size:14.65px;font-weight:700;color:#1c2a0e;letter-spacing:-0.789px;white-space:nowrap;-webkit-text-stroke:0.41px #1c2a0e;">Top Projects</div>
<div style="position:absolute;left:1348.3px;top:1070.3px;height:15px;line-height:15px;font-size:11.73px;font-weight:400;color:#8d94a0;letter-spacing:-0.234px;white-space:nowrap;">Highest revenue projects (aggregated)</div>
<svg style="position:absolute;left:2199.8px;top:1038.7px" width="20" height="20" viewBox="0 0 20 20"><circle cx="10" cy="10" r="8.6" fill="none" stroke="#9aa1ad" stroke-width="1.2"/><rect x="9.3" y="8.6" width="1.5" height="6" fill="#8b93a1"/><circle cx="10" cy="6.3" r="0.95" fill="#8b93a1"/></svg>
<div style="position:absolute;left:1348.3px;top:1102.9px;height:13px;line-height:13px;font-size:10.20px;font-weight:700;color:#6b7280;letter-spacing:-0.300px;white-space:nowrap;">Project</div>
<div style="position:absolute;left:-49.9px;width:2000px;text-align:right;top:1102.9px;height:13px;line-height:13px;font-size:10.09px;font-weight:700;color:#6b7280;letter-spacing:-0.497px;white-space:nowrap;">Revenue</div>
<div style="position:absolute;left:53.7px;width:2000px;text-align:right;top:1102.9px;height:13px;line-height:13px;font-size:10.23px;font-weight:700;color:#6b7280;letter-spacing:-0.459px;white-space:nowrap;">DMOs</div>
<div style="position:absolute;left:208.5px;width:2000px;text-align:right;top:1102.9px;height:13px;line-height:13px;font-size:10.14px;font-weight:700;color:#6b7280;letter-spacing:-0.412px;white-space:nowrap;">Margin</div>
<div style="position:absolute;left:1348px;top:1122px;width:861px;height:1px;background:#eceef1"></div>
<div style="position:absolute;left:1348.3px;top:1129.4px;height:15px;line-height:15px;font-size:11.87px;font-weight:500;color:#1c2a0e;letter-spacing:-1.504px;white-space:nowrap;-webkit-text-stroke:0.25px #1c2a0e;">DV</div>
<div style="position:absolute;left:1348.3px;top:1147.5px;height:12px;line-height:12px;font-size:9.48px;font-weight:400;color:#8d94a0;letter-spacing:-0.518px;white-space:nowrap;">1,396 maps</div>
<div style="position:absolute;left:-50.3px;width:2000px;text-align:right;top:1136.5px;height:15px;line-height:15px;font-size:11.74px;font-weight:700;color:#1c2a0e;letter-spacing:-0.857px;white-space:nowrap;">$1.23M</div>
<div style="position:absolute;left:53.1px;width:2000px;text-align:right;top:1136.5px;height:16px;line-height:16px;font-size:11.94px;font-weight:400;color:#4b5563;letter-spacing:-1.083px;white-space:nowrap;-webkit-text-stroke:0.2px #4b5563;">37</div>
<div style="position:absolute;left:2168px;top:1137px;width:41px;height:14px;background:#fdf0dc;border-radius:7px"></div>
<div style="position:absolute;left:1188.3px;width:2000px;text-align:center;top:1138.7px;height:12px;line-height:12px;font-size:9.26px;font-weight:700;color:#d88a2a;letter-spacing:-0.311px;white-space:nowrap;">76.8%</div>
<div style="position:absolute;left:1348px;top:1167px;width:861px;height:1px;background:#f0f1f3"></div>
<div style="position:absolute;left:1348.3px;top:1173.9px;height:16px;line-height:16px;font-size:11.98px;font-weight:500;color:#1c2a0e;letter-spacing:-0.484px;white-space:nowrap;-webkit-text-stroke:0.25px #1c2a0e;">Travel Oregon</div>
<div style="position:absolute;left:1348.3px;top:1192.0px;height:13px;line-height:13px;font-size:9.67px;font-weight:400;color:#8d94a0;letter-spacing:-0.367px;white-space:nowrap;">380 maps</div>
<div style="position:absolute;left:-49.7px;width:2000px;text-align:right;top:1181.0px;height:16px;line-height:16px;font-size:12.20px;font-weight:700;color:#1c2a0e;letter-spacing:-0.339px;white-space:nowrap;">$400.0K</div>
<div style="position:absolute;left:54.2px;width:2000px;text-align:right;top:1181.5px;height:16px;line-height:16px;font-size:12.50px;font-weight:400;color:#4b5563;letter-spacing:0.000px;white-space:nowrap;-webkit-text-stroke:0.2px #4b5563;">1</div>
<div style="position:absolute;left:2168px;top:1182px;width:41px;height:14px;background:#fdf0dc;border-radius:7px"></div>
<div style="position:absolute;left:1188.3px;width:2000px;text-align:center;top:1183.7px;height:12px;line-height:12px;font-size:9.26px;font-weight:700;color:#d88a2a;letter-spacing:-0.311px;white-space:nowrap;">77.0%</div>
<div style="position:absolute;left:1348px;top:1212px;width:861px;height:1px;background:#f0f1f3"></div>
<div style="position:absolute;left:1348.3px;top:1219.4px;height:15px;line-height:15px;font-size:11.90px;font-weight:500;color:#1c2a0e;letter-spacing:-0.910px;white-space:nowrap;-webkit-text-stroke:0.25px #1c2a0e;">NYSDMO</div>
<div style="position:absolute;left:1348.3px;top:1237.0px;height:13px;line-height:13px;font-size:9.65px;font-weight:400;color:#8d94a0;letter-spacing:-0.385px;white-space:nowrap;">240 maps</div>
<div style="position:absolute;left:-50.0px;width:2000px;text-align:right;top:1226.0px;height:16px;line-height:16px;font-size:11.95px;font-weight:700;color:#1c2a0e;letter-spacing:-0.600px;white-space:nowrap;">$334.8K</div>
<div style="position:absolute;left:53.1px;width:2000px;text-align:right;top:1226.5px;height:16px;line-height:16px;font-size:11.94px;font-weight:400;color:#4b5563;letter-spacing:-1.083px;white-space:nowrap;-webkit-text-stroke:0.2px #4b5563;">12</div>
<div style="position:absolute;left:2168px;top:1227px;width:41px;height:14px;background:#e2f6ea;border-radius:7px"></div>
<div style="position:absolute;left:1188.3px;width:2000px;text-align:center;top:1228.7px;height:12px;line-height:12px;font-size:9.26px;font-weight:700;color:#1c9a5c;letter-spacing:-0.311px;white-space:nowrap;">80.8%</div>
<div style="position:absolute;left:1348px;top:1257px;width:861px;height:1px;background:#f0f1f3"></div>
<div style="position:absolute;left:1348.3px;top:1263.9px;height:16px;line-height:16px;font-size:12.11px;font-weight:500;color:#1c2a0e;letter-spacing:-0.297px;white-space:nowrap;-webkit-text-stroke:0.25px #1c2a0e;">Visit Florida</div>
<div style="position:absolute;left:1348.3px;top:1282.5px;height:12px;line-height:12px;font-size:9.57px;font-weight:400;color:#8d94a0;letter-spacing:-0.474px;white-space:nowrap;">393 maps</div>
<div style="position:absolute;left:-49.9px;width:2000px;text-align:right;top:1271.0px;height:16px;line-height:16px;font-size:12.07px;font-weight:700;color:#1c2a0e;letter-spacing:-0.475px;white-space:nowrap;">$290.0K</div>
<div style="position:absolute;left:53.1px;width:2000px;text-align:right;top:1271.5px;height:16px;line-height:16px;font-size:11.94px;font-weight:400;color:#4b5563;letter-spacing:-1.083px;white-space:nowrap;-webkit-text-stroke:0.2px #4b5563;">14</div>
<div style="position:absolute;left:2168px;top:1272px;width:41px;height:14px;background:#e2f6ea;border-radius:7px"></div>
<div style="position:absolute;left:1188.3px;width:2000px;text-align:center;top:1273.7px;height:12px;line-height:12px;font-size:9.26px;font-weight:700;color:#1c9a5c;letter-spacing:-0.311px;white-space:nowrap;">81.9%</div>
<div style="position:absolute;left:1348px;top:1302px;width:861px;height:1px;background:#f0f1f3"></div>
<div style="position:absolute;left:1348.3px;top:1308.9px;height:16px;line-height:16px;font-size:12.04px;font-weight:500;color:#1c2a0e;letter-spacing:-0.460px;white-space:nowrap;-webkit-text-stroke:0.25px #1c2a0e;">Oregon Coast</div>
<div style="position:absolute;left:1348.3px;top:1327.0px;height:13px;line-height:13px;font-size:9.65px;font-weight:400;color:#8d94a0;letter-spacing:-0.385px;white-space:nowrap;">345 maps</div>
<div style="position:absolute;left:-50.0px;width:2000px;text-align:right;top:1316.0px;height:16px;line-height:16px;font-size:11.95px;font-weight:700;color:#1c2a0e;letter-spacing:-0.600px;white-space:nowrap;">$255.9K</div>
<div style="position:absolute;left:53.1px;width:2000px;text-align:right;top:1317.0px;height:15px;line-height:15px;font-size:11.87px;font-weight:400;color:#4b5563;letter-spacing:-1.130px;white-space:nowrap;-webkit-text-stroke:0.2px #4b5563;">11</div>
<div style="position:absolute;left:2168px;top:1317px;width:41px;height:14px;background:#e2f6ea;border-radius:7px"></div>
<div style="position:absolute;left:1188.3px;width:2000px;text-align:center;top:1318.7px;height:12px;line-height:12px;font-size:9.26px;font-weight:700;color:#1c9a5c;letter-spacing:-0.311px;white-space:nowrap;">82.3%</div>
<div style="position:absolute;left:1348px;top:1347px;width:861px;height:1px;background:#f0f1f3"></div>
<div style="position:absolute;left:1348.3px;top:1353.9px;height:16px;line-height:16px;font-size:11.93px;font-weight:500;color:#1c2a0e;letter-spacing:-1.038px;white-space:nowrap;-webkit-text-stroke:0.25px #1c2a0e;">CTO</div>
<div style="position:absolute;left:1348.3px;top:1372.0px;height:13px;line-height:13px;font-size:9.64px;font-weight:400;color:#8d94a0;letter-spacing:-0.410px;white-space:nowrap;">70 maps</div>
<div style="position:absolute;left:-50.0px;width:2000px;text-align:right;top:1361.0px;height:16px;line-height:16px;font-size:11.99px;font-weight:700;color:#1c2a0e;letter-spacing:-0.574px;white-space:nowrap;">$70.0K</div>
<div style="position:absolute;left:54.2px;width:2000px;text-align:right;top:1361.5px;height:16px;line-height:16px;font-size:12.50px;font-weight:400;color:#4b5563;letter-spacing:0.000px;white-space:nowrap;-webkit-text-stroke:0.2px #4b5563;">1</div>
<div style="position:absolute;left:2168px;top:1362px;width:41px;height:14px;background:#fdf0dc;border-radius:7px"></div>
<div style="position:absolute;left:1188.3px;width:2000px;text-align:center;top:1363.7px;height:12px;line-height:12px;font-size:9.26px;font-weight:700;color:#d88a2a;letter-spacing:-0.311px;white-space:nowrap;">78.3%</div>
<div style="position:absolute;left:1348px;top:1392px;width:861px;height:1px;background:#f0f1f3"></div>
</body></html>
